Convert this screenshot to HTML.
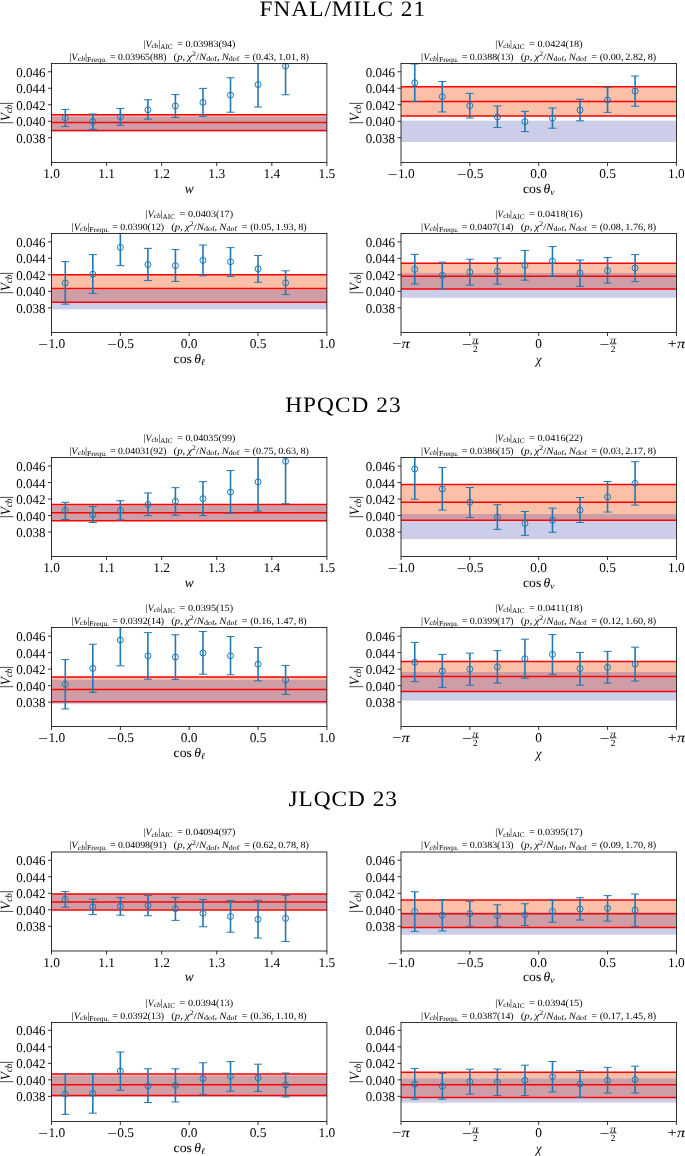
<!DOCTYPE html>
<html lang="en"><head><meta charset="utf-8"><title>Vcb fits</title>
<style>
html,body{margin:0;padding:0;background:#fff}
svg{display:block;will-change:transform}
text{font-family:"Liberation Serif",serif;fill:#000;text-rendering:geometricPrecision}
.tk{font-size:13.4px}
.ti{font-size:9.6px}
.gt{font-size:22px}
.it{font-style:italic}
.sp{fill:none;stroke:#000;stroke-width:.8}
.tm{stroke:#000;stroke-width:.8}
.rl{stroke:#f00;stroke-width:1.5}
.eb{stroke:#1f77b4;stroke-width:1.6}
.cp{stroke:#1f77b4;stroke-width:1}
.mk{fill:none;stroke:#1f77b4;stroke-width:1}
</style></head>
<body>
<svg width="685" height="1156" viewBox="0 0 685 1156">
<rect width="685" height="1156" fill="#fff"/>
<text class="gt" transform="translate(342.35,16.4) scale(1.06,1)" text-anchor="middle" textLength="156.13" lengthAdjust="spacing">FNAL/MILC 21</text>
<text class="gt" transform="translate(342.9,411.5) scale(1.06,1)" text-anchor="middle" textLength="108.87" lengthAdjust="spacing">HPQCD 23</text>
<text class="gt" transform="translate(342.75,806.0) scale(1.06,1)" text-anchor="middle" textLength="102.36" lengthAdjust="spacing">JLQCD 23</text>
<g>
<clipPath id="c1"><rect x="51.5" y="63.5" width="275.4" height="99"/></clipPath>
<g clip-path="url(#c1)">
<rect x="51.5" y="114.85" width="275.4" height="15.53" fill="#fcc0a8"/>
<rect x="51.5" y="116.7" width="275.4" height="15.1" fill="#cccde8"/>
<rect x="51.5" y="116.7" width="275.4" height="13.68" fill="#ce9da5"/>
<line class="rl" x1="51.5" x2="326.9" y1="114.85" y2="114.85"/>
<line class="rl" x1="51.5" x2="326.9" y1="122.55" y2="122.55"/>
<line class="rl" x1="51.5" x2="326.9" y1="130.38" y2="130.38"/>
<line class="eb" x1="65.27" x2="65.27" y1="109.41" y2="126.59"/><line class="cp" x1="61.27" x2="69.27" y1="109.41" y2="109.41"/><line class="cp" x1="61.27" x2="69.27" y1="126.59" y2="126.59"/><circle class="mk" cx="65.27" cy="117.79" r="3"/>
<line class="eb" x1="92.81" x2="92.81" y1="114.01" y2="129.38"/><line class="cp" x1="88.81" x2="96.81" y1="114.01" y2="114.01"/><line class="cp" x1="88.81" x2="96.81" y1="129.38" y2="129.38"/><circle class="mk" cx="92.81" cy="121.57" r="3"/>
<line class="eb" x1="120.35" x2="120.35" y1="108.43" y2="125.19"/><line class="cp" x1="116.35" x2="124.35" y1="108.43" y2="108.43"/><line class="cp" x1="116.35" x2="124.35" y1="125.19" y2="125.19"/><circle class="mk" cx="120.35" cy="116.81" r="3"/>
<line class="eb" x1="147.89" x2="147.89" y1="99.8" y2="119.19"/><line class="cp" x1="143.89" x2="151.89" y1="99.8" y2="99.8"/><line class="cp" x1="143.89" x2="151.89" y1="119.19" y2="119.19"/><circle class="mk" cx="147.89" cy="109.82" r="3"/>
<line class="eb" x1="175.43" x2="175.43" y1="94.62" y2="117.38"/><line class="cp" x1="171.43" x2="179.43" y1="94.62" y2="94.62"/><line class="cp" x1="171.43" x2="179.43" y1="117.38" y2="117.38"/><circle class="mk" cx="175.43" cy="105.96" r="3"/>
<line class="eb" x1="202.97" x2="202.97" y1="88.38" y2="116.4"/><line class="cp" x1="198.97" x2="206.97" y1="88.38" y2="88.38"/><line class="cp" x1="198.97" x2="206.97" y1="116.4" y2="116.4"/><circle class="mk" cx="202.97" cy="102.43" r="3"/>
<line class="eb" x1="230.51" x2="230.51" y1="77.78" y2="112.21"/><line class="cp" x1="226.51" x2="234.51" y1="77.78" y2="77.78"/><line class="cp" x1="226.51" x2="234.51" y1="112.21" y2="112.21"/><circle class="mk" cx="230.51" cy="95.2" r="3"/>
<line class="eb" x1="258.05" x2="258.05" y1="62.17" y2="107.03"/><line class="cp" x1="254.05" x2="262.05" y1="62.17" y2="62.17"/><line class="cp" x1="254.05" x2="262.05" y1="107.03" y2="107.03"/><circle class="mk" cx="258.05" cy="84.6" r="3"/>
<line class="eb" x1="285.59" x2="285.59" y1="37.27" y2="94.79"/><line class="cp" x1="281.59" x2="289.59" y1="37.27" y2="37.27"/><line class="cp" x1="281.59" x2="289.59" y1="94.79" y2="94.79"/><circle class="mk" cx="285.59" cy="66.03" r="3"/>
</g>
<rect class="sp" x="51.5" y="63.5" width="275.4" height="99"/>
<line class="tm" x1="48" x2="51.5" y1="137.75" y2="137.75"/><text class="tk" x="45.5" y="142.85" text-anchor="end" textLength="29.3" lengthAdjust="spacingAndGlyphs">0.038</text>
<line class="tm" x1="48" x2="51.5" y1="121.25" y2="121.25"/><text class="tk" x="45.5" y="126.35" text-anchor="end" textLength="29.3" lengthAdjust="spacingAndGlyphs">0.040</text>
<line class="tm" x1="48" x2="51.5" y1="104.75" y2="104.75"/><text class="tk" x="45.5" y="109.85" text-anchor="end" textLength="29.3" lengthAdjust="spacingAndGlyphs">0.042</text>
<line class="tm" x1="48" x2="51.5" y1="88.25" y2="88.25"/><text class="tk" x="45.5" y="93.35" text-anchor="end" textLength="29.3" lengthAdjust="spacingAndGlyphs">0.044</text>
<line class="tm" x1="48" x2="51.5" y1="71.75" y2="71.75"/><text class="tk" x="45.5" y="76.85" text-anchor="end" textLength="29.3" lengthAdjust="spacingAndGlyphs">0.046</text>
<text font-size="14px" transform="translate(9.5,113) rotate(-90)" text-anchor="middle" textLength="22.6" lengthAdjust="spacingAndGlyphs"><tspan font-size="15.5px" dy=".8">|</tspan><tspan class="it" dy="-.8">V</tspan><tspan class="it" font-size="9.6px" dy="2.3">cb</tspan><tspan font-size="15.5px" dy="-1.5">|</tspan></text>
<line class="tm" x1="51.5" x2="51.5" y1="162.5" y2="166"/><text class="tk" x="51.5" y="178.3" text-anchor="middle">1.0</text>
<line class="tm" x1="106.58" x2="106.58" y1="162.5" y2="166"/><text class="tk" x="106.58" y="178.3" text-anchor="middle">1.1</text>
<line class="tm" x1="161.66" x2="161.66" y1="162.5" y2="166"/><text class="tk" x="161.66" y="178.3" text-anchor="middle">1.2</text>
<line class="tm" x1="216.74" x2="216.74" y1="162.5" y2="166"/><text class="tk" x="216.74" y="178.3" text-anchor="middle">1.3</text>
<line class="tm" x1="271.82" x2="271.82" y1="162.5" y2="166"/><text class="tk" x="271.82" y="178.3" text-anchor="middle">1.4</text>
<line class="tm" x1="326.9" x2="326.9" y1="162.5" y2="166"/><text class="tk" x="326.9" y="178.3" text-anchor="middle">1.5</text>
<text class="tk it" x="189.2" y="192.8" text-anchor="middle">w</text>
<text class="ti" x="143.45" y="46.8" textLength="29.2" lengthAdjust="spacingAndGlyphs">|<tspan class="it">V</tspan><tspan class="it" font-size="7.1px" dy="1.5">cb</tspan><tspan dy="-1.5">|</tspan><tspan font-size="7.1px" dy="2">AIC</tspan></text>
<text class="ti" x="177.25" y="46.8" textLength="58.2" lengthAdjust="spacingAndGlyphs">= 0.03983(94)</text>
<text class="ti" x="69.3" y="59.6" textLength="37.6" lengthAdjust="spacingAndGlyphs">|<tspan class="it">V</tspan><tspan class="it" font-size="7.1px" dy="1.5">cb</tspan><tspan dy="-1.5">|</tspan><tspan font-size="7.1px" dy="2">Frequ.</tspan></text>
<text class="ti" x="109.9" y="59.6" textLength="56.6" lengthAdjust="spacingAndGlyphs">= 0.03965(88)</text>
<text class="ti" x="173.6" y="59.6" textLength="65.9" lengthAdjust="spacingAndGlyphs">(<tspan class="it">p</tspan>,<tspan class="it" dx="1.8">χ</tspan><tspan font-size="7.1px" dy="-3.5">2</tspan><tspan dy="3.5">/</tspan><tspan class="it">N</tspan><tspan font-size="7.1px" dy="1.5">dof</tspan><tspan dy="-1.5">,</tspan><tspan class="it" dx="1.8">N</tspan><tspan font-size="7.1px" dy="1.5">dof</tspan></text>
<text class="ti" x="244.2" y="59.6" textLength="64.8" lengthAdjust="spacingAndGlyphs">= (0.43,<tspan dx="1.8">1.01,</tspan><tspan dx="1.8">8)</tspan></text>
</g>
<g>
<clipPath id="c2"><rect x="401" y="63.5" width="275.4" height="99"/></clipPath>
<g clip-path="url(#c2)">
<rect x="401" y="86.74" width="275.4" height="29.34" fill="#fcc0a8"/>
<rect x="401" y="120.65" width="275.4" height="21.3" fill="#cccde8"/>
<line class="rl" x1="401" x2="676.4" y1="86.74" y2="86.74"/>
<line class="rl" x1="401" x2="676.4" y1="101.41" y2="101.41"/>
<line class="rl" x1="401" x2="676.4" y1="116.08" y2="116.08"/>
<line class="eb" x1="414.77" x2="414.77" y1="63.98" y2="101.36"/><line class="cp" x1="410.77" x2="418.77" y1="63.98" y2="63.98"/><line class="cp" x1="410.77" x2="418.77" y1="101.36" y2="101.36"/><circle class="mk" cx="414.77" cy="82.79" r="3"/>
<line class="eb" x1="442.31" x2="442.31" y1="81.56" y2="111.96"/><line class="cp" x1="438.31" x2="446.31" y1="81.56" y2="81.56"/><line class="cp" x1="438.31" x2="446.31" y1="111.96" y2="111.96"/><circle class="mk" cx="442.31" cy="96.76" r="3"/>
<line class="eb" x1="469.85" x2="469.85" y1="93.39" y2="117.96"/><line class="cp" x1="465.85" x2="473.85" y1="93.39" y2="93.39"/><line class="cp" x1="465.85" x2="473.85" y1="117.96" y2="117.96"/><circle class="mk" cx="469.85" cy="105.63" r="3"/>
<line class="eb" x1="497.39" x2="497.39" y1="105.96" y2="127.57"/><line class="cp" x1="493.39" x2="501.39" y1="105.96" y2="105.96"/><line class="cp" x1="493.39" x2="501.39" y1="127.57" y2="127.57"/><circle class="mk" cx="497.39" cy="116.97" r="3"/>
<line class="eb" x1="524.93" x2="524.93" y1="111.39" y2="131.6"/><line class="cp" x1="520.93" x2="528.93" y1="111.39" y2="111.39"/><line class="cp" x1="520.93" x2="528.93" y1="131.6" y2="131.6"/><circle class="mk" cx="524.93" cy="121.57" r="3"/>
<line class="eb" x1="552.47" x2="552.47" y1="108.02" y2="128.23"/><line class="cp" x1="548.47" x2="556.47" y1="108.02" y2="108.02"/><line class="cp" x1="548.47" x2="556.47" y1="128.23" y2="128.23"/><circle class="mk" cx="552.47" cy="117.96" r="3"/>
<line class="eb" x1="580.01" x2="580.01" y1="99.22" y2="120.83"/><line class="cp" x1="576.01" x2="584.01" y1="99.22" y2="99.22"/><line class="cp" x1="576.01" x2="584.01" y1="120.83" y2="120.83"/><circle class="mk" cx="580.01" cy="109.99" r="3"/>
<line class="eb" x1="607.55" x2="607.55" y1="87.64" y2="112.37"/><line class="cp" x1="603.55" x2="611.55" y1="87.64" y2="87.64"/><line class="cp" x1="603.55" x2="611.55" y1="112.37" y2="112.37"/><circle class="mk" cx="607.55" cy="99.96" r="3"/>
<line class="eb" x1="635.09" x2="635.09" y1="75.97" y2="106.21"/><line class="cp" x1="631.09" x2="639.09" y1="75.97" y2="75.97"/><line class="cp" x1="631.09" x2="639.09" y1="106.21" y2="106.21"/><circle class="mk" cx="635.09" cy="91.01" r="3"/>
</g>
<rect class="sp" x="401" y="63.5" width="275.4" height="99"/>
<line class="tm" x1="397.5" x2="401" y1="137.75" y2="137.75"/><text class="tk" x="395" y="142.85" text-anchor="end" textLength="29.3" lengthAdjust="spacingAndGlyphs">0.038</text>
<line class="tm" x1="397.5" x2="401" y1="121.25" y2="121.25"/><text class="tk" x="395" y="126.35" text-anchor="end" textLength="29.3" lengthAdjust="spacingAndGlyphs">0.040</text>
<line class="tm" x1="397.5" x2="401" y1="104.75" y2="104.75"/><text class="tk" x="395" y="109.85" text-anchor="end" textLength="29.3" lengthAdjust="spacingAndGlyphs">0.042</text>
<line class="tm" x1="397.5" x2="401" y1="88.25" y2="88.25"/><text class="tk" x="395" y="93.35" text-anchor="end" textLength="29.3" lengthAdjust="spacingAndGlyphs">0.044</text>
<line class="tm" x1="397.5" x2="401" y1="71.75" y2="71.75"/><text class="tk" x="395" y="76.85" text-anchor="end" textLength="29.3" lengthAdjust="spacingAndGlyphs">0.046</text>
<text font-size="14px" transform="translate(359,113) rotate(-90)" text-anchor="middle" textLength="22.6" lengthAdjust="spacingAndGlyphs"><tspan font-size="15.5px" dy=".8">|</tspan><tspan class="it" dy="-.8">V</tspan><tspan class="it" font-size="9.6px" dy="2.3">cb</tspan><tspan font-size="15.5px" dy="-1.5">|</tspan></text>
<line class="tm" x1="401" x2="401" y1="162.5" y2="166"/><text class="tk" x="387.8" y="179.1" textLength="9.8" lengthAdjust="spacingAndGlyphs">−</text><text class="tk" x="397.9" y="178.3">1.0</text>
<line class="tm" x1="469.85" x2="469.85" y1="162.5" y2="166"/><text class="tk" x="456.65" y="179.1" textLength="9.8" lengthAdjust="spacingAndGlyphs">−</text><text class="tk" x="466.75" y="178.3">0.5</text>
<line class="tm" x1="538.7" x2="538.7" y1="162.5" y2="166"/><text class="tk" x="538.7" y="178.3" text-anchor="middle">0.0</text>
<line class="tm" x1="607.55" x2="607.55" y1="162.5" y2="166"/><text class="tk" x="607.55" y="178.3" text-anchor="middle">0.5</text>
<line class="tm" x1="676.4" x2="676.4" y1="162.5" y2="166"/><text class="tk" x="676.4" y="178.3" text-anchor="middle">1.0</text>
<text class="tk" x="538.7" y="192.7" text-anchor="middle" textLength="31.3" lengthAdjust="spacingAndGlyphs">cos<tspan class="it" dx="2.2">θ</tspan><tspan class="it" font-size="9.1px" dy="2">v</tspan></text>
<text class="ti" x="495.27" y="46.8" textLength="29.2" lengthAdjust="spacingAndGlyphs">|<tspan class="it">V</tspan><tspan class="it" font-size="7.1px" dy="1.5">cb</tspan><tspan dy="-1.5">|</tspan><tspan font-size="7.1px" dy="2">AIC</tspan></text>
<text class="ti" x="529.08" y="46.8" textLength="53.55" lengthAdjust="spacingAndGlyphs">= 0.0424(18)</text>
<text class="ti" x="421.13" y="59.6" textLength="37.6" lengthAdjust="spacingAndGlyphs">|<tspan class="it">V</tspan><tspan class="it" font-size="7.1px" dy="1.5">cb</tspan><tspan dy="-1.5">|</tspan><tspan font-size="7.1px" dy="2">Frequ.</tspan></text>
<text class="ti" x="461.73" y="59.6" textLength="51.95" lengthAdjust="spacingAndGlyphs">= 0.0388(13)</text>
<text class="ti" x="520.78" y="59.6" textLength="65.9" lengthAdjust="spacingAndGlyphs">(<tspan class="it">p</tspan>,<tspan class="it" dx="1.8">χ</tspan><tspan font-size="7.1px" dy="-3.5">2</tspan><tspan dy="3.5">/</tspan><tspan class="it">N</tspan><tspan font-size="7.1px" dy="1.5">dof</tspan><tspan dy="-1.5">,</tspan><tspan class="it" dx="1.8">N</tspan><tspan font-size="7.1px" dy="1.5">dof</tspan></text>
<text class="ti" x="591.38" y="59.6" textLength="64.8" lengthAdjust="spacingAndGlyphs">= (0.00,<tspan dx="1.8">2.82,</tspan><tspan dx="1.8">8)</tspan></text>
</g>
<g>
<clipPath id="c3"><rect x="51.5" y="233.5" width="275.4" height="99"/></clipPath>
<g clip-path="url(#c3)">
<rect x="51.5" y="274.84" width="275.4" height="27.38" fill="#fcc0a8"/>
<rect x="51.5" y="289.5" width="275.4" height="19.9" fill="#cccde8"/>
<rect x="51.5" y="289.5" width="275.4" height="12.72" fill="#ce9da5"/>
<line class="rl" x1="51.5" x2="326.9" y1="274.84" y2="274.84"/>
<line class="rl" x1="51.5" x2="326.9" y1="288.49" y2="288.49"/>
<line class="rl" x1="51.5" x2="326.9" y1="302.22" y2="302.22"/>
<line class="eb" x1="65.27" x2="65.27" y1="261.6" y2="304.16"/><line class="cp" x1="61.27" x2="69.27" y1="261.6" y2="261.6"/><line class="cp" x1="61.27" x2="69.27" y1="304.16" y2="304.16"/><circle class="mk" cx="65.27" cy="282.96" r="3"/>
<line class="eb" x1="92.81" x2="92.81" y1="254.62" y2="293.4"/><line class="cp" x1="88.81" x2="96.81" y1="254.62" y2="254.62"/><line class="cp" x1="88.81" x2="96.81" y1="293.4" y2="293.4"/><circle class="mk" cx="92.81" cy="274.17" r="3"/>
<line class="eb" x1="120.35" x2="120.35" y1="229.15" y2="265.63"/><line class="cp" x1="116.35" x2="124.35" y1="229.15" y2="229.15"/><line class="cp" x1="116.35" x2="124.35" y1="265.63" y2="265.63"/><circle class="mk" cx="120.35" cy="247.39" r="3"/>
<line class="eb" x1="147.89" x2="147.89" y1="248.37" y2="280.58"/><line class="cp" x1="143.89" x2="151.89" y1="248.37" y2="248.37"/><line class="cp" x1="143.89" x2="151.89" y1="280.58" y2="280.58"/><circle class="mk" cx="147.89" cy="264.56" r="3"/>
<line class="eb" x1="175.43" x2="175.43" y1="249.6" y2="281.4"/><line class="cp" x1="171.43" x2="179.43" y1="249.6" y2="249.6"/><line class="cp" x1="171.43" x2="179.43" y1="281.4" y2="281.4"/><circle class="mk" cx="175.43" cy="265.63" r="3"/>
<line class="eb" x1="202.97" x2="202.97" y1="245" y2="275.82"/><line class="cp" x1="198.97" x2="206.97" y1="245" y2="245"/><line class="cp" x1="198.97" x2="206.97" y1="275.82" y2="275.82"/><circle class="mk" cx="202.97" cy="260.37" r="3"/>
<line class="eb" x1="230.51" x2="230.51" y1="247.63" y2="276.39"/><line class="cp" x1="226.51" x2="234.51" y1="247.63" y2="247.63"/><line class="cp" x1="226.51" x2="234.51" y1="276.39" y2="276.39"/><circle class="mk" cx="230.51" cy="261.77" r="3"/>
<line class="eb" x1="258.05" x2="258.05" y1="255.44" y2="282.22"/><line class="cp" x1="254.05" x2="262.05" y1="255.44" y2="255.44"/><line class="cp" x1="254.05" x2="262.05" y1="282.22" y2="282.22"/><circle class="mk" cx="258.05" cy="268.83" r="3"/>
<line class="eb" x1="285.59" x2="285.59" y1="270.8" y2="294.63"/><line class="cp" x1="281.59" x2="289.59" y1="270.8" y2="270.8"/><line class="cp" x1="281.59" x2="289.59" y1="294.63" y2="294.63"/><circle class="mk" cx="285.59" cy="282.8" r="3"/>
</g>
<rect class="sp" x="51.5" y="233.5" width="275.4" height="99"/>
<line class="tm" x1="48" x2="51.5" y1="307.85" y2="307.85"/><text class="tk" x="45.5" y="312.95" text-anchor="end" textLength="29.3" lengthAdjust="spacingAndGlyphs">0.038</text>
<line class="tm" x1="48" x2="51.5" y1="291.35" y2="291.35"/><text class="tk" x="45.5" y="296.45" text-anchor="end" textLength="29.3" lengthAdjust="spacingAndGlyphs">0.040</text>
<line class="tm" x1="48" x2="51.5" y1="274.85" y2="274.85"/><text class="tk" x="45.5" y="279.95" text-anchor="end" textLength="29.3" lengthAdjust="spacingAndGlyphs">0.042</text>
<line class="tm" x1="48" x2="51.5" y1="258.35" y2="258.35"/><text class="tk" x="45.5" y="263.45" text-anchor="end" textLength="29.3" lengthAdjust="spacingAndGlyphs">0.044</text>
<line class="tm" x1="48" x2="51.5" y1="241.85" y2="241.85"/><text class="tk" x="45.5" y="246.95" text-anchor="end" textLength="29.3" lengthAdjust="spacingAndGlyphs">0.046</text>
<text font-size="14px" transform="translate(9.5,283) rotate(-90)" text-anchor="middle" textLength="22.6" lengthAdjust="spacingAndGlyphs"><tspan font-size="15.5px" dy=".8">|</tspan><tspan class="it" dy="-.8">V</tspan><tspan class="it" font-size="9.6px" dy="2.3">cb</tspan><tspan font-size="15.5px" dy="-1.5">|</tspan></text>
<line class="tm" x1="51.5" x2="51.5" y1="332.5" y2="336"/><text class="tk" x="38.3" y="349.1" textLength="9.8" lengthAdjust="spacingAndGlyphs">−</text><text class="tk" x="48.4" y="348.3">1.0</text>
<line class="tm" x1="120.35" x2="120.35" y1="332.5" y2="336"/><text class="tk" x="107.15" y="349.1" textLength="9.8" lengthAdjust="spacingAndGlyphs">−</text><text class="tk" x="117.25" y="348.3">0.5</text>
<line class="tm" x1="189.2" x2="189.2" y1="332.5" y2="336"/><text class="tk" x="189.2" y="348.3" text-anchor="middle">0.0</text>
<line class="tm" x1="258.05" x2="258.05" y1="332.5" y2="336"/><text class="tk" x="258.05" y="348.3" text-anchor="middle">0.5</text>
<line class="tm" x1="326.9" x2="326.9" y1="332.5" y2="336"/><text class="tk" x="326.9" y="348.3" text-anchor="middle">1.0</text>
<text class="tk" x="189.2" y="362.7" text-anchor="middle" textLength="31.3" lengthAdjust="spacingAndGlyphs">cos<tspan class="it" dx="2.2">θ</tspan><tspan class="it" font-size="9.1px" dy="2">ℓ</tspan></text>
<text class="ti" x="145.77" y="216.8" textLength="29.2" lengthAdjust="spacingAndGlyphs">|<tspan class="it">V</tspan><tspan class="it" font-size="7.1px" dy="1.5">cb</tspan><tspan dy="-1.5">|</tspan><tspan font-size="7.1px" dy="2">AIC</tspan></text>
<text class="ti" x="179.57" y="216.8" textLength="53.55" lengthAdjust="spacingAndGlyphs">= 0.0403(17)</text>
<text class="ti" x="71.62" y="229.6" textLength="37.6" lengthAdjust="spacingAndGlyphs">|<tspan class="it">V</tspan><tspan class="it" font-size="7.1px" dy="1.5">cb</tspan><tspan dy="-1.5">|</tspan><tspan font-size="7.1px" dy="2">Frequ.</tspan></text>
<text class="ti" x="112.22" y="229.6" textLength="51.95" lengthAdjust="spacingAndGlyphs">= 0.0390(12)</text>
<text class="ti" x="171.28" y="229.6" textLength="65.9" lengthAdjust="spacingAndGlyphs">(<tspan class="it">p</tspan>,<tspan class="it" dx="1.8">χ</tspan><tspan font-size="7.1px" dy="-3.5">2</tspan><tspan dy="3.5">/</tspan><tspan class="it">N</tspan><tspan font-size="7.1px" dy="1.5">dof</tspan><tspan dy="-1.5">,</tspan><tspan class="it" dx="1.8">N</tspan><tspan font-size="7.1px" dy="1.5">dof</tspan></text>
<text class="ti" x="241.87" y="229.6" textLength="64.8" lengthAdjust="spacingAndGlyphs">= (0.05,<tspan dx="1.8">1.93,</tspan><tspan dx="1.8">8)</tspan></text>
</g>
<g>
<clipPath id="c4"><rect x="401" y="233.5" width="275.4" height="99"/></clipPath>
<g clip-path="url(#c4)">
<rect x="401" y="263.3" width="275.4" height="25.7" fill="#fcc0a8"/>
<rect x="401" y="273" width="275.4" height="24.8" fill="#cccde8"/>
<rect x="401" y="273" width="275.4" height="16" fill="#ce9da5"/>
<line class="rl" x1="401" x2="676.4" y1="263.3" y2="263.3"/>
<line class="rl" x1="401" x2="676.4" y1="276.2" y2="276.2"/>
<line class="rl" x1="401" x2="676.4" y1="289" y2="289"/>
<line class="eb" x1="414.77" x2="414.77" y1="254.37" y2="284.03"/><line class="cp" x1="410.77" x2="418.77" y1="254.37" y2="254.37"/><line class="cp" x1="410.77" x2="418.77" y1="284.03" y2="284.03"/><circle class="mk" cx="414.77" cy="269.41" r="3"/>
<line class="eb" x1="442.31" x2="442.31" y1="262.18" y2="288.63"/><line class="cp" x1="438.31" x2="446.31" y1="262.18" y2="262.18"/><line class="cp" x1="438.31" x2="446.31" y1="288.63" y2="288.63"/><circle class="mk" cx="442.31" cy="275.4" r="3"/>
<line class="eb" x1="469.85" x2="469.85" y1="259.22" y2="285.18"/><line class="cp" x1="465.85" x2="473.85" y1="259.22" y2="259.22"/><line class="cp" x1="465.85" x2="473.85" y1="285.18" y2="285.18"/><circle class="mk" cx="469.85" cy="272.04" r="3"/>
<line class="eb" x1="497.39" x2="497.39" y1="257.99" y2="284.2"/><line class="cp" x1="493.39" x2="501.39" y1="257.99" y2="257.99"/><line class="cp" x1="493.39" x2="501.39" y1="284.2" y2="284.2"/><circle class="mk" cx="497.39" cy="271.21" r="3"/>
<line class="eb" x1="524.93" x2="524.93" y1="250.43" y2="280.17"/><line class="cp" x1="520.93" x2="528.93" y1="250.43" y2="250.43"/><line class="cp" x1="520.93" x2="528.93" y1="280.17" y2="280.17"/><circle class="mk" cx="524.93" cy="265.38" r="3"/>
<line class="eb" x1="552.47" x2="552.47" y1="246.56" y2="276.23"/><line class="cp" x1="548.47" x2="556.47" y1="246.56" y2="246.56"/><line class="cp" x1="548.47" x2="556.47" y1="276.23" y2="276.23"/><circle class="mk" cx="552.47" cy="261.19" r="3"/>
<line class="eb" x1="580.01" x2="580.01" y1="260.04" y2="286.42"/><line class="cp" x1="576.01" x2="584.01" y1="260.04" y2="260.04"/><line class="cp" x1="576.01" x2="584.01" y1="286.42" y2="286.42"/><circle class="mk" cx="580.01" cy="273.02" r="3"/>
<line class="eb" x1="607.55" x2="607.55" y1="257.57" y2="283.21"/><line class="cp" x1="603.55" x2="611.55" y1="257.57" y2="257.57"/><line class="cp" x1="603.55" x2="611.55" y1="283.21" y2="283.21"/><circle class="mk" cx="607.55" cy="270.64" r="3"/>
<line class="eb" x1="635.09" x2="635.09" y1="254.62" y2="281.57"/><line class="cp" x1="631.09" x2="639.09" y1="254.62" y2="254.62"/><line class="cp" x1="631.09" x2="639.09" y1="281.57" y2="281.57"/><circle class="mk" cx="635.09" cy="268.01" r="3"/>
</g>
<rect class="sp" x="401" y="233.5" width="275.4" height="99"/>
<line class="tm" x1="397.5" x2="401" y1="307.85" y2="307.85"/><text class="tk" x="395" y="312.95" text-anchor="end" textLength="29.3" lengthAdjust="spacingAndGlyphs">0.038</text>
<line class="tm" x1="397.5" x2="401" y1="291.35" y2="291.35"/><text class="tk" x="395" y="296.45" text-anchor="end" textLength="29.3" lengthAdjust="spacingAndGlyphs">0.040</text>
<line class="tm" x1="397.5" x2="401" y1="274.85" y2="274.85"/><text class="tk" x="395" y="279.95" text-anchor="end" textLength="29.3" lengthAdjust="spacingAndGlyphs">0.042</text>
<line class="tm" x1="397.5" x2="401" y1="258.35" y2="258.35"/><text class="tk" x="395" y="263.45" text-anchor="end" textLength="29.3" lengthAdjust="spacingAndGlyphs">0.044</text>
<line class="tm" x1="397.5" x2="401" y1="241.85" y2="241.85"/><text class="tk" x="395" y="246.95" text-anchor="end" textLength="29.3" lengthAdjust="spacingAndGlyphs">0.046</text>
<text font-size="14px" transform="translate(359,283) rotate(-90)" text-anchor="middle" textLength="22.6" lengthAdjust="spacingAndGlyphs"><tspan font-size="15.5px" dy=".8">|</tspan><tspan class="it" dy="-.8">V</tspan><tspan class="it" font-size="9.6px" dy="2.3">cb</tspan><tspan font-size="15.5px" dy="-1.5">|</tspan></text>
<line class="tm" x1="401" x2="401" y1="332.5" y2="336"/><text class="tk" x="401" y="348.3" text-anchor="middle" textLength="17.6" lengthAdjust="spacingAndGlyphs">−<tspan class="it">π</tspan></text>
<line class="tm" x1="469.85" x2="469.85" y1="332.5" y2="336"/><text class="tk" x="466.95" y="348.7" text-anchor="middle" textLength="10.1" lengthAdjust="spacingAndGlyphs">−</text><text class="it" font-size="9.3px" x="475.45" y="342.9" text-anchor="middle" textLength="6.2" lengthAdjust="spacingAndGlyphs">π</text><line class="tm" x1="472.25" x2="478.75" y1="343.8" y2="343.8" stroke-width=".6"/><text font-size="9.3px" x="475.45" y="352" text-anchor="middle">2</text>
<line class="tm" x1="538.7" x2="538.7" y1="332.5" y2="336"/><text class="tk" x="538.7" y="348.3" text-anchor="middle">0</text>
<line class="tm" x1="607.55" x2="607.55" y1="332.5" y2="336"/><text class="tk" x="604.65" y="348.7" text-anchor="middle" textLength="10.1" lengthAdjust="spacingAndGlyphs">−</text><text class="it" font-size="9.3px" x="613.15" y="342.9" text-anchor="middle" textLength="6.2" lengthAdjust="spacingAndGlyphs">π</text><line class="tm" x1="609.95" x2="616.45" y1="343.8" y2="343.8" stroke-width=".6"/><text font-size="9.3px" x="613.15" y="352" text-anchor="middle">2</text>
<line class="tm" x1="676.4" x2="676.4" y1="332.5" y2="336"/><text class="tk" x="676.4" y="348.3" text-anchor="middle" textLength="17.6" lengthAdjust="spacingAndGlyphs">+<tspan class="it">π</tspan></text>
<text class="tk it" x="538.7" y="364.1" text-anchor="middle">χ</text>
<text class="ti" x="495.27" y="216.8" textLength="29.2" lengthAdjust="spacingAndGlyphs">|<tspan class="it">V</tspan><tspan class="it" font-size="7.1px" dy="1.5">cb</tspan><tspan dy="-1.5">|</tspan><tspan font-size="7.1px" dy="2">AIC</tspan></text>
<text class="ti" x="529.08" y="216.8" textLength="53.55" lengthAdjust="spacingAndGlyphs">= 0.0418(16)</text>
<text class="ti" x="421.13" y="229.6" textLength="37.6" lengthAdjust="spacingAndGlyphs">|<tspan class="it">V</tspan><tspan class="it" font-size="7.1px" dy="1.5">cb</tspan><tspan dy="-1.5">|</tspan><tspan font-size="7.1px" dy="2">Frequ.</tspan></text>
<text class="ti" x="461.73" y="229.6" textLength="51.95" lengthAdjust="spacingAndGlyphs">= 0.0407(14)</text>
<text class="ti" x="520.78" y="229.6" textLength="65.9" lengthAdjust="spacingAndGlyphs">(<tspan class="it">p</tspan>,<tspan class="it" dx="1.8">χ</tspan><tspan font-size="7.1px" dy="-3.5">2</tspan><tspan dy="3.5">/</tspan><tspan class="it">N</tspan><tspan font-size="7.1px" dy="1.5">dof</tspan><tspan dy="-1.5">,</tspan><tspan class="it" dx="1.8">N</tspan><tspan font-size="7.1px" dy="1.5">dof</tspan></text>
<text class="ti" x="591.38" y="229.6" textLength="64.8" lengthAdjust="spacingAndGlyphs">= (0.08,<tspan dx="1.8">1.76,</tspan><tspan dx="1.8">8)</tspan></text>
</g>
<g>
<clipPath id="c5"><rect x="51.5" y="457.5" width="275.4" height="99"/></clipPath>
<g clip-path="url(#c5)">
<rect x="51.5" y="504.5" width="275.4" height="16.33" fill="#fcc0a8"/>
<rect x="51.5" y="505.4" width="275.4" height="15.18" fill="#cccde8"/>
<rect x="51.5" y="505.4" width="275.4" height="15.18" fill="#ce9da5"/>
<line class="rl" x1="51.5" x2="326.9" y1="504.5" y2="504.5"/>
<line class="rl" x1="51.5" x2="326.9" y1="512.66" y2="512.66"/>
<line class="rl" x1="51.5" x2="326.9" y1="520.83" y2="520.83"/>
<line class="eb" x1="65.27" x2="65.27" y1="502.3" y2="519.47"/><line class="cp" x1="61.27" x2="69.27" y1="502.3" y2="502.3"/><line class="cp" x1="61.27" x2="69.27" y1="519.47" y2="519.47"/><circle class="mk" cx="65.27" cy="510.68" r="3"/>
<line class="eb" x1="92.81" x2="92.81" y1="506.49" y2="522.51"/><line class="cp" x1="88.81" x2="96.81" y1="506.49" y2="506.49"/><line class="cp" x1="88.81" x2="96.81" y1="522.51" y2="522.51"/><circle class="mk" cx="92.81" cy="514.71" r="3"/>
<line class="eb" x1="120.35" x2="120.35" y1="500.74" y2="519.88"/><line class="cp" x1="116.35" x2="124.35" y1="500.74" y2="500.74"/><line class="cp" x1="116.35" x2="124.35" y1="519.88" y2="519.88"/><circle class="mk" cx="120.35" cy="510.52" r="3"/>
<line class="eb" x1="147.89" x2="147.89" y1="492.93" y2="515.69"/><line class="cp" x1="143.89" x2="151.89" y1="492.93" y2="492.93"/><line class="cp" x1="143.89" x2="151.89" y1="515.69" y2="515.69"/><circle class="mk" cx="147.89" cy="504.52" r="3"/>
<line class="eb" x1="175.43" x2="175.43" y1="487.67" y2="515.28"/><line class="cp" x1="171.43" x2="179.43" y1="487.67" y2="487.67"/><line class="cp" x1="171.43" x2="179.43" y1="515.28" y2="515.28"/><circle class="mk" cx="175.43" cy="501.31" r="3"/>
<line class="eb" x1="202.97" x2="202.97" y1="481.67" y2="515.53"/><line class="cp" x1="198.97" x2="206.97" y1="481.67" y2="481.67"/><line class="cp" x1="198.97" x2="206.97" y1="515.53" y2="515.53"/><circle class="mk" cx="202.97" cy="498.68" r="3"/>
<line class="eb" x1="230.51" x2="230.51" y1="470.5" y2="513.31"/><line class="cp" x1="226.51" x2="234.51" y1="470.5" y2="470.5"/><line class="cp" x1="226.51" x2="234.51" y1="513.31" y2="513.31"/><circle class="mk" cx="230.51" cy="492.11" r="3"/>
<line class="eb" x1="258.05" x2="258.05" y1="452.75" y2="511.09"/><line class="cp" x1="254.05" x2="262.05" y1="452.75" y2="452.75"/><line class="cp" x1="254.05" x2="262.05" y1="511.09" y2="511.09"/><circle class="mk" cx="258.05" cy="481.92" r="3"/>
<line class="eb" x1="285.59" x2="285.59" y1="418.9" y2="503.7"/><line class="cp" x1="281.59" x2="289.59" y1="418.9" y2="418.9"/><line class="cp" x1="281.59" x2="289.59" y1="503.7" y2="503.7"/><circle class="mk" cx="285.59" cy="461.3" r="3"/>
</g>
<rect class="sp" x="51.5" y="457.5" width="275.4" height="99"/>
<line class="tm" x1="48" x2="51.5" y1="532.05" y2="532.05"/><text class="tk" x="45.5" y="537.15" text-anchor="end" textLength="29.3" lengthAdjust="spacingAndGlyphs">0.038</text>
<line class="tm" x1="48" x2="51.5" y1="515.55" y2="515.55"/><text class="tk" x="45.5" y="520.65" text-anchor="end" textLength="29.3" lengthAdjust="spacingAndGlyphs">0.040</text>
<line class="tm" x1="48" x2="51.5" y1="499.05" y2="499.05"/><text class="tk" x="45.5" y="504.15" text-anchor="end" textLength="29.3" lengthAdjust="spacingAndGlyphs">0.042</text>
<line class="tm" x1="48" x2="51.5" y1="482.55" y2="482.55"/><text class="tk" x="45.5" y="487.65" text-anchor="end" textLength="29.3" lengthAdjust="spacingAndGlyphs">0.044</text>
<line class="tm" x1="48" x2="51.5" y1="466.05" y2="466.05"/><text class="tk" x="45.5" y="471.15" text-anchor="end" textLength="29.3" lengthAdjust="spacingAndGlyphs">0.046</text>
<text font-size="14px" transform="translate(9.5,507) rotate(-90)" text-anchor="middle" textLength="22.6" lengthAdjust="spacingAndGlyphs"><tspan font-size="15.5px" dy=".8">|</tspan><tspan class="it" dy="-.8">V</tspan><tspan class="it" font-size="9.6px" dy="2.3">cb</tspan><tspan font-size="15.5px" dy="-1.5">|</tspan></text>
<line class="tm" x1="51.5" x2="51.5" y1="556.5" y2="560"/><text class="tk" x="51.5" y="572.3" text-anchor="middle">1.0</text>
<line class="tm" x1="106.58" x2="106.58" y1="556.5" y2="560"/><text class="tk" x="106.58" y="572.3" text-anchor="middle">1.1</text>
<line class="tm" x1="161.66" x2="161.66" y1="556.5" y2="560"/><text class="tk" x="161.66" y="572.3" text-anchor="middle">1.2</text>
<line class="tm" x1="216.74" x2="216.74" y1="556.5" y2="560"/><text class="tk" x="216.74" y="572.3" text-anchor="middle">1.3</text>
<line class="tm" x1="271.82" x2="271.82" y1="556.5" y2="560"/><text class="tk" x="271.82" y="572.3" text-anchor="middle">1.4</text>
<line class="tm" x1="326.9" x2="326.9" y1="556.5" y2="560"/><text class="tk" x="326.9" y="572.3" text-anchor="middle">1.5</text>
<text class="tk it" x="189.2" y="586.8" text-anchor="middle">w</text>
<text class="ti" x="143.45" y="440.8" textLength="29.2" lengthAdjust="spacingAndGlyphs">|<tspan class="it">V</tspan><tspan class="it" font-size="7.1px" dy="1.5">cb</tspan><tspan dy="-1.5">|</tspan><tspan font-size="7.1px" dy="2">AIC</tspan></text>
<text class="ti" x="177.25" y="440.8" textLength="58.2" lengthAdjust="spacingAndGlyphs">= 0.04035(99)</text>
<text class="ti" x="69.3" y="453.6" textLength="37.6" lengthAdjust="spacingAndGlyphs">|<tspan class="it">V</tspan><tspan class="it" font-size="7.1px" dy="1.5">cb</tspan><tspan dy="-1.5">|</tspan><tspan font-size="7.1px" dy="2">Frequ.</tspan></text>
<text class="ti" x="109.9" y="453.6" textLength="56.6" lengthAdjust="spacingAndGlyphs">= 0.04031(92)</text>
<text class="ti" x="173.6" y="453.6" textLength="65.9" lengthAdjust="spacingAndGlyphs">(<tspan class="it">p</tspan>,<tspan class="it" dx="1.8">χ</tspan><tspan font-size="7.1px" dy="-3.5">2</tspan><tspan dy="3.5">/</tspan><tspan class="it">N</tspan><tspan font-size="7.1px" dy="1.5">dof</tspan><tspan dy="-1.5">,</tspan><tspan class="it" dx="1.8">N</tspan><tspan font-size="7.1px" dy="1.5">dof</tspan></text>
<text class="ti" x="244.2" y="453.6" textLength="64.8" lengthAdjust="spacingAndGlyphs">= (0.75,<tspan dx="1.8">0.63,</tspan><tspan dx="1.8">8)</tspan></text>
</g>
<g>
<clipPath id="c6"><rect x="401" y="457.5" width="275.4" height="99"/></clipPath>
<g clip-path="url(#c6)">
<rect x="401" y="484.4" width="275.4" height="35.9" fill="#fcc0a8"/>
<rect x="401" y="514" width="275.4" height="25.2" fill="#cccde8"/>
<rect x="401" y="514" width="275.4" height="6.3" fill="#ce9da5"/>
<line class="rl" x1="401" x2="676.4" y1="484.4" y2="484.4"/>
<line class="rl" x1="401" x2="676.4" y1="502.35" y2="502.35"/>
<line class="rl" x1="401" x2="676.4" y1="520.3" y2="520.3"/>
<line class="eb" x1="414.77" x2="414.77" y1="438.62" y2="499.26"/><line class="cp" x1="410.77" x2="418.77" y1="438.62" y2="438.62"/><line class="cp" x1="410.77" x2="418.77" y1="499.26" y2="499.26"/><circle class="mk" cx="414.77" cy="468.94" r="3"/>
<line class="eb" x1="442.31" x2="442.31" y1="467.46" y2="510.1"/><line class="cp" x1="438.31" x2="446.31" y1="467.46" y2="467.46"/><line class="cp" x1="438.31" x2="446.31" y1="510.1" y2="510.1"/><circle class="mk" cx="442.31" cy="488.91" r="3"/>
<line class="eb" x1="469.85" x2="469.85" y1="487.51" y2="517.5"/><line class="cp" x1="465.85" x2="473.85" y1="487.51" y2="487.51"/><line class="cp" x1="465.85" x2="473.85" y1="517.5" y2="517.5"/><circle class="mk" cx="469.85" cy="502.3" r="3"/>
<line class="eb" x1="497.39" x2="497.39" y1="504.68" y2="529.33"/><line class="cp" x1="493.39" x2="501.39" y1="504.68" y2="504.68"/><line class="cp" x1="493.39" x2="501.39" y1="529.33" y2="529.33"/><circle class="mk" cx="497.39" cy="517.09" r="3"/>
<line class="eb" x1="524.93" x2="524.93" y1="511.5" y2="535.33"/><line class="cp" x1="520.93" x2="528.93" y1="511.5" y2="511.5"/><line class="cp" x1="520.93" x2="528.93" y1="535.33" y2="535.33"/><circle class="mk" cx="524.93" cy="523.5" r="3"/>
<line class="eb" x1="552.47" x2="552.47" y1="508.13" y2="532.29"/><line class="cp" x1="548.47" x2="556.47" y1="508.13" y2="508.13"/><line class="cp" x1="548.47" x2="556.47" y1="532.29" y2="532.29"/><circle class="mk" cx="552.47" cy="520.29" r="3"/>
<line class="eb" x1="580.01" x2="580.01" y1="497.53" y2="522.51"/><line class="cp" x1="576.01" x2="584.01" y1="497.53" y2="497.53"/><line class="cp" x1="576.01" x2="584.01" y1="522.51" y2="522.51"/><circle class="mk" cx="580.01" cy="510.1" r="3"/>
<line class="eb" x1="607.55" x2="607.55" y1="481.51" y2="512.08"/><line class="cp" x1="603.55" x2="611.55" y1="481.51" y2="481.51"/><line class="cp" x1="603.55" x2="611.55" y1="512.08" y2="512.08"/><circle class="mk" cx="607.55" cy="496.88" r="3"/>
<line class="eb" x1="635.09" x2="635.09" y1="461.71" y2="505.09"/><line class="cp" x1="631.09" x2="639.09" y1="461.71" y2="461.71"/><line class="cp" x1="631.09" x2="639.09" y1="505.09" y2="505.09"/><circle class="mk" cx="635.09" cy="483.32" r="3"/>
</g>
<rect class="sp" x="401" y="457.5" width="275.4" height="99"/>
<line class="tm" x1="397.5" x2="401" y1="532.05" y2="532.05"/><text class="tk" x="395" y="537.15" text-anchor="end" textLength="29.3" lengthAdjust="spacingAndGlyphs">0.038</text>
<line class="tm" x1="397.5" x2="401" y1="515.55" y2="515.55"/><text class="tk" x="395" y="520.65" text-anchor="end" textLength="29.3" lengthAdjust="spacingAndGlyphs">0.040</text>
<line class="tm" x1="397.5" x2="401" y1="499.05" y2="499.05"/><text class="tk" x="395" y="504.15" text-anchor="end" textLength="29.3" lengthAdjust="spacingAndGlyphs">0.042</text>
<line class="tm" x1="397.5" x2="401" y1="482.55" y2="482.55"/><text class="tk" x="395" y="487.65" text-anchor="end" textLength="29.3" lengthAdjust="spacingAndGlyphs">0.044</text>
<line class="tm" x1="397.5" x2="401" y1="466.05" y2="466.05"/><text class="tk" x="395" y="471.15" text-anchor="end" textLength="29.3" lengthAdjust="spacingAndGlyphs">0.046</text>
<text font-size="14px" transform="translate(359,507) rotate(-90)" text-anchor="middle" textLength="22.6" lengthAdjust="spacingAndGlyphs"><tspan font-size="15.5px" dy=".8">|</tspan><tspan class="it" dy="-.8">V</tspan><tspan class="it" font-size="9.6px" dy="2.3">cb</tspan><tspan font-size="15.5px" dy="-1.5">|</tspan></text>
<line class="tm" x1="401" x2="401" y1="556.5" y2="560"/><text class="tk" x="387.8" y="573.1" textLength="9.8" lengthAdjust="spacingAndGlyphs">−</text><text class="tk" x="397.9" y="572.3">1.0</text>
<line class="tm" x1="469.85" x2="469.85" y1="556.5" y2="560"/><text class="tk" x="456.65" y="573.1" textLength="9.8" lengthAdjust="spacingAndGlyphs">−</text><text class="tk" x="466.75" y="572.3">0.5</text>
<line class="tm" x1="538.7" x2="538.7" y1="556.5" y2="560"/><text class="tk" x="538.7" y="572.3" text-anchor="middle">0.0</text>
<line class="tm" x1="607.55" x2="607.55" y1="556.5" y2="560"/><text class="tk" x="607.55" y="572.3" text-anchor="middle">0.5</text>
<line class="tm" x1="676.4" x2="676.4" y1="556.5" y2="560"/><text class="tk" x="676.4" y="572.3" text-anchor="middle">1.0</text>
<text class="tk" x="538.7" y="586.7" text-anchor="middle" textLength="31.3" lengthAdjust="spacingAndGlyphs">cos<tspan class="it" dx="2.2">θ</tspan><tspan class="it" font-size="9.1px" dy="2">v</tspan></text>
<text class="ti" x="495.27" y="440.8" textLength="29.2" lengthAdjust="spacingAndGlyphs">|<tspan class="it">V</tspan><tspan class="it" font-size="7.1px" dy="1.5">cb</tspan><tspan dy="-1.5">|</tspan><tspan font-size="7.1px" dy="2">AIC</tspan></text>
<text class="ti" x="529.08" y="440.8" textLength="53.55" lengthAdjust="spacingAndGlyphs">= 0.0416(22)</text>
<text class="ti" x="421.13" y="453.6" textLength="37.6" lengthAdjust="spacingAndGlyphs">|<tspan class="it">V</tspan><tspan class="it" font-size="7.1px" dy="1.5">cb</tspan><tspan dy="-1.5">|</tspan><tspan font-size="7.1px" dy="2">Frequ.</tspan></text>
<text class="ti" x="461.73" y="453.6" textLength="51.95" lengthAdjust="spacingAndGlyphs">= 0.0386(15)</text>
<text class="ti" x="520.78" y="453.6" textLength="65.9" lengthAdjust="spacingAndGlyphs">(<tspan class="it">p</tspan>,<tspan class="it" dx="1.8">χ</tspan><tspan font-size="7.1px" dy="-3.5">2</tspan><tspan dy="3.5">/</tspan><tspan class="it">N</tspan><tspan font-size="7.1px" dy="1.5">dof</tspan><tspan dy="-1.5">,</tspan><tspan class="it" dx="1.8">N</tspan><tspan font-size="7.1px" dy="1.5">dof</tspan></text>
<text class="ti" x="591.38" y="453.6" textLength="64.8" lengthAdjust="spacingAndGlyphs">= (0.03,<tspan dx="1.8">2.17,</tspan><tspan dx="1.8">8)</tspan></text>
</g>
<g>
<clipPath id="c7"><rect x="51.5" y="627.5" width="275.4" height="99"/></clipPath>
<g clip-path="url(#c7)">
<rect x="51.5" y="676.95" width="275.4" height="24.9" fill="#fcc0a8"/>
<rect x="51.5" y="679.9" width="275.4" height="24.3" fill="#cccde8"/>
<rect x="51.5" y="679.9" width="275.4" height="21.95" fill="#ce9da5"/>
<line class="rl" x1="51.5" x2="326.9" y1="676.95" y2="676.95"/>
<line class="rl" x1="51.5" x2="326.9" y1="689.4" y2="689.4"/>
<line class="rl" x1="51.5" x2="326.9" y1="701.85" y2="701.85"/>
<line class="eb" x1="65.27" x2="65.27" y1="659.58" y2="708.96"/><line class="cp" x1="61.27" x2="69.27" y1="659.58" y2="659.58"/><line class="cp" x1="61.27" x2="69.27" y1="708.96" y2="708.96"/><circle class="mk" cx="65.27" cy="684.4" r="3"/>
<line class="eb" x1="92.81" x2="92.81" y1="644.22" y2="692.37"/><line class="cp" x1="88.81" x2="96.81" y1="644.22" y2="644.22"/><line class="cp" x1="88.81" x2="96.81" y1="692.37" y2="692.37"/><circle class="mk" cx="92.81" cy="668.37" r="3"/>
<line class="eb" x1="120.35" x2="120.35" y1="614.22" y2="665.83"/><line class="cp" x1="116.35" x2="124.35" y1="614.22" y2="614.22"/><line class="cp" x1="116.35" x2="124.35" y1="665.83" y2="665.83"/><circle class="mk" cx="120.35" cy="640.03" r="3"/>
<line class="eb" x1="147.89" x2="147.89" y1="632.63" y2="679.22"/><line class="cp" x1="143.89" x2="151.89" y1="632.63" y2="632.63"/><line class="cp" x1="143.89" x2="151.89" y1="679.22" y2="679.22"/><circle class="mk" cx="147.89" cy="655.8" r="3"/>
<line class="eb" x1="175.43" x2="175.43" y1="634.77" y2="679.38"/><line class="cp" x1="171.43" x2="179.43" y1="634.77" y2="634.77"/><line class="cp" x1="171.43" x2="179.43" y1="679.38" y2="679.38"/><circle class="mk" cx="175.43" cy="657.03" r="3"/>
<line class="eb" x1="202.97" x2="202.97" y1="631.56" y2="674.21"/><line class="cp" x1="198.97" x2="206.97" y1="631.56" y2="631.56"/><line class="cp" x1="198.97" x2="206.97" y1="674.21" y2="674.21"/><circle class="mk" cx="202.97" cy="653.01" r="3"/>
<line class="eb" x1="230.51" x2="230.51" y1="636.57" y2="674.78"/><line class="cp" x1="226.51" x2="234.51" y1="636.57" y2="636.57"/><line class="cp" x1="226.51" x2="234.51" y1="674.78" y2="674.78"/><circle class="mk" cx="230.51" cy="655.8" r="3"/>
<line class="eb" x1="258.05" x2="258.05" y1="647.42" y2="680.78"/><line class="cp" x1="254.05" x2="262.05" y1="647.42" y2="647.42"/><line class="cp" x1="254.05" x2="262.05" y1="680.78" y2="680.78"/><circle class="mk" cx="258.05" cy="664.18" r="3"/>
<line class="eb" x1="285.59" x2="285.59" y1="665.41" y2="694.42"/><line class="cp" x1="281.59" x2="289.59" y1="665.41" y2="665.41"/><line class="cp" x1="281.59" x2="289.59" y1="694.42" y2="694.42"/><circle class="mk" cx="285.59" cy="679.96" r="3"/>
</g>
<rect class="sp" x="51.5" y="627.5" width="275.4" height="99"/>
<line class="tm" x1="48" x2="51.5" y1="702.15" y2="702.15"/><text class="tk" x="45.5" y="707.25" text-anchor="end" textLength="29.3" lengthAdjust="spacingAndGlyphs">0.038</text>
<line class="tm" x1="48" x2="51.5" y1="685.65" y2="685.65"/><text class="tk" x="45.5" y="690.75" text-anchor="end" textLength="29.3" lengthAdjust="spacingAndGlyphs">0.040</text>
<line class="tm" x1="48" x2="51.5" y1="669.15" y2="669.15"/><text class="tk" x="45.5" y="674.25" text-anchor="end" textLength="29.3" lengthAdjust="spacingAndGlyphs">0.042</text>
<line class="tm" x1="48" x2="51.5" y1="652.65" y2="652.65"/><text class="tk" x="45.5" y="657.75" text-anchor="end" textLength="29.3" lengthAdjust="spacingAndGlyphs">0.044</text>
<line class="tm" x1="48" x2="51.5" y1="636.15" y2="636.15"/><text class="tk" x="45.5" y="641.25" text-anchor="end" textLength="29.3" lengthAdjust="spacingAndGlyphs">0.046</text>
<text font-size="14px" transform="translate(9.5,677) rotate(-90)" text-anchor="middle" textLength="22.6" lengthAdjust="spacingAndGlyphs"><tspan font-size="15.5px" dy=".8">|</tspan><tspan class="it" dy="-.8">V</tspan><tspan class="it" font-size="9.6px" dy="2.3">cb</tspan><tspan font-size="15.5px" dy="-1.5">|</tspan></text>
<line class="tm" x1="51.5" x2="51.5" y1="726.5" y2="730"/><text class="tk" x="38.3" y="743.1" textLength="9.8" lengthAdjust="spacingAndGlyphs">−</text><text class="tk" x="48.4" y="742.3">1.0</text>
<line class="tm" x1="120.35" x2="120.35" y1="726.5" y2="730"/><text class="tk" x="107.15" y="743.1" textLength="9.8" lengthAdjust="spacingAndGlyphs">−</text><text class="tk" x="117.25" y="742.3">0.5</text>
<line class="tm" x1="189.2" x2="189.2" y1="726.5" y2="730"/><text class="tk" x="189.2" y="742.3" text-anchor="middle">0.0</text>
<line class="tm" x1="258.05" x2="258.05" y1="726.5" y2="730"/><text class="tk" x="258.05" y="742.3" text-anchor="middle">0.5</text>
<line class="tm" x1="326.9" x2="326.9" y1="726.5" y2="730"/><text class="tk" x="326.9" y="742.3" text-anchor="middle">1.0</text>
<text class="tk" x="189.2" y="756.7" text-anchor="middle" textLength="31.3" lengthAdjust="spacingAndGlyphs">cos<tspan class="it" dx="2.2">θ</tspan><tspan class="it" font-size="9.1px" dy="2">ℓ</tspan></text>
<text class="ti" x="145.77" y="610.8" textLength="29.2" lengthAdjust="spacingAndGlyphs">|<tspan class="it">V</tspan><tspan class="it" font-size="7.1px" dy="1.5">cb</tspan><tspan dy="-1.5">|</tspan><tspan font-size="7.1px" dy="2">AIC</tspan></text>
<text class="ti" x="179.57" y="610.8" textLength="53.55" lengthAdjust="spacingAndGlyphs">= 0.0395(15)</text>
<text class="ti" x="71.62" y="623.6" textLength="37.6" lengthAdjust="spacingAndGlyphs">|<tspan class="it">V</tspan><tspan class="it" font-size="7.1px" dy="1.5">cb</tspan><tspan dy="-1.5">|</tspan><tspan font-size="7.1px" dy="2">Frequ.</tspan></text>
<text class="ti" x="112.22" y="623.6" textLength="51.95" lengthAdjust="spacingAndGlyphs">= 0.0392(14)</text>
<text class="ti" x="171.28" y="623.6" textLength="65.9" lengthAdjust="spacingAndGlyphs">(<tspan class="it">p</tspan>,<tspan class="it" dx="1.8">χ</tspan><tspan font-size="7.1px" dy="-3.5">2</tspan><tspan dy="3.5">/</tspan><tspan class="it">N</tspan><tspan font-size="7.1px" dy="1.5">dof</tspan><tspan dy="-1.5">,</tspan><tspan class="it" dx="1.8">N</tspan><tspan font-size="7.1px" dy="1.5">dof</tspan></text>
<text class="ti" x="241.87" y="623.6" textLength="64.8" lengthAdjust="spacingAndGlyphs">= (0.16,<tspan dx="1.8">1.47,</tspan><tspan dx="1.8">8)</tspan></text>
</g>
<g>
<clipPath id="c8"><rect x="401" y="627.5" width="275.4" height="99"/></clipPath>
<g clip-path="url(#c8)">
<rect x="401" y="661.45" width="275.4" height="30.15" fill="#fcc0a8"/>
<rect x="401" y="672" width="275.4" height="28.6" fill="#cccde8"/>
<rect x="401" y="672" width="275.4" height="19.6" fill="#ce9da5"/>
<line class="rl" x1="401" x2="676.4" y1="661.45" y2="661.45"/>
<line class="rl" x1="401" x2="676.4" y1="676.5" y2="676.5"/>
<line class="rl" x1="401" x2="676.4" y1="691.6" y2="691.6"/>
<line class="eb" x1="414.77" x2="414.77" y1="642.41" y2="681.6"/><line class="cp" x1="410.77" x2="418.77" y1="642.41" y2="642.41"/><line class="cp" x1="410.77" x2="418.77" y1="681.6" y2="681.6"/><circle class="mk" cx="414.77" cy="662.21" r="3"/>
<line class="eb" x1="442.31" x2="442.31" y1="654.4" y2="687.44"/><line class="cp" x1="438.31" x2="446.31" y1="654.4" y2="654.4"/><line class="cp" x1="438.31" x2="446.31" y1="687.44" y2="687.44"/><circle class="mk" cx="442.31" cy="671" r="3"/>
<line class="eb" x1="469.85" x2="469.85" y1="653.17" y2="685.22"/><line class="cp" x1="465.85" x2="473.85" y1="653.17" y2="653.17"/><line class="cp" x1="465.85" x2="473.85" y1="685.22" y2="685.22"/><circle class="mk" cx="469.85" cy="669.19" r="3"/>
<line class="eb" x1="497.39" x2="497.39" y1="650.62" y2="683.16"/><line class="cp" x1="493.39" x2="501.39" y1="650.62" y2="650.62"/><line class="cp" x1="493.39" x2="501.39" y1="683.16" y2="683.16"/><circle class="mk" cx="497.39" cy="666.81" r="3"/>
<line class="eb" x1="524.93" x2="524.93" y1="639.2" y2="678.23"/><line class="cp" x1="520.93" x2="528.93" y1="639.2" y2="639.2"/><line class="cp" x1="520.93" x2="528.93" y1="678.23" y2="678.23"/><circle class="mk" cx="524.93" cy="658.76" r="3"/>
<line class="eb" x1="552.47" x2="552.47" y1="634.6" y2="674.37"/><line class="cp" x1="548.47" x2="556.47" y1="634.6" y2="634.6"/><line class="cp" x1="548.47" x2="556.47" y1="674.37" y2="674.37"/><circle class="mk" cx="552.47" cy="654.4" r="3"/>
<line class="eb" x1="580.01" x2="580.01" y1="652.43" y2="685.22"/><line class="cp" x1="576.01" x2="584.01" y1="652.43" y2="652.43"/><line class="cp" x1="576.01" x2="584.01" y1="685.22" y2="685.22"/><circle class="mk" cx="580.01" cy="668.62" r="3"/>
<line class="eb" x1="607.55" x2="607.55" y1="651.36" y2="683.16"/><line class="cp" x1="603.55" x2="611.55" y1="651.36" y2="651.36"/><line class="cp" x1="603.55" x2="611.55" y1="683.16" y2="683.16"/><circle class="mk" cx="607.55" cy="667.39" r="3"/>
<line class="eb" x1="635.09" x2="635.09" y1="647.17" y2="681.03"/><line class="cp" x1="631.09" x2="639.09" y1="647.17" y2="647.17"/><line class="cp" x1="631.09" x2="639.09" y1="681.03" y2="681.03"/><circle class="mk" cx="635.09" cy="664.02" r="3"/>
</g>
<rect class="sp" x="401" y="627.5" width="275.4" height="99"/>
<line class="tm" x1="397.5" x2="401" y1="702.15" y2="702.15"/><text class="tk" x="395" y="707.25" text-anchor="end" textLength="29.3" lengthAdjust="spacingAndGlyphs">0.038</text>
<line class="tm" x1="397.5" x2="401" y1="685.65" y2="685.65"/><text class="tk" x="395" y="690.75" text-anchor="end" textLength="29.3" lengthAdjust="spacingAndGlyphs">0.040</text>
<line class="tm" x1="397.5" x2="401" y1="669.15" y2="669.15"/><text class="tk" x="395" y="674.25" text-anchor="end" textLength="29.3" lengthAdjust="spacingAndGlyphs">0.042</text>
<line class="tm" x1="397.5" x2="401" y1="652.65" y2="652.65"/><text class="tk" x="395" y="657.75" text-anchor="end" textLength="29.3" lengthAdjust="spacingAndGlyphs">0.044</text>
<line class="tm" x1="397.5" x2="401" y1="636.15" y2="636.15"/><text class="tk" x="395" y="641.25" text-anchor="end" textLength="29.3" lengthAdjust="spacingAndGlyphs">0.046</text>
<text font-size="14px" transform="translate(359,677) rotate(-90)" text-anchor="middle" textLength="22.6" lengthAdjust="spacingAndGlyphs"><tspan font-size="15.5px" dy=".8">|</tspan><tspan class="it" dy="-.8">V</tspan><tspan class="it" font-size="9.6px" dy="2.3">cb</tspan><tspan font-size="15.5px" dy="-1.5">|</tspan></text>
<line class="tm" x1="401" x2="401" y1="726.5" y2="730"/><text class="tk" x="401" y="742.3" text-anchor="middle" textLength="17.6" lengthAdjust="spacingAndGlyphs">−<tspan class="it">π</tspan></text>
<line class="tm" x1="469.85" x2="469.85" y1="726.5" y2="730"/><text class="tk" x="466.95" y="742.7" text-anchor="middle" textLength="10.1" lengthAdjust="spacingAndGlyphs">−</text><text class="it" font-size="9.3px" x="475.45" y="736.9" text-anchor="middle" textLength="6.2" lengthAdjust="spacingAndGlyphs">π</text><line class="tm" x1="472.25" x2="478.75" y1="737.8" y2="737.8" stroke-width=".6"/><text font-size="9.3px" x="475.45" y="746" text-anchor="middle">2</text>
<line class="tm" x1="538.7" x2="538.7" y1="726.5" y2="730"/><text class="tk" x="538.7" y="742.3" text-anchor="middle">0</text>
<line class="tm" x1="607.55" x2="607.55" y1="726.5" y2="730"/><text class="tk" x="604.65" y="742.7" text-anchor="middle" textLength="10.1" lengthAdjust="spacingAndGlyphs">−</text><text class="it" font-size="9.3px" x="613.15" y="736.9" text-anchor="middle" textLength="6.2" lengthAdjust="spacingAndGlyphs">π</text><line class="tm" x1="609.95" x2="616.45" y1="737.8" y2="737.8" stroke-width=".6"/><text font-size="9.3px" x="613.15" y="746" text-anchor="middle">2</text>
<line class="tm" x1="676.4" x2="676.4" y1="726.5" y2="730"/><text class="tk" x="676.4" y="742.3" text-anchor="middle" textLength="17.6" lengthAdjust="spacingAndGlyphs">+<tspan class="it">π</tspan></text>
<text class="tk it" x="538.7" y="758.1" text-anchor="middle">χ</text>
<text class="ti" x="495.27" y="610.8" textLength="29.2" lengthAdjust="spacingAndGlyphs">|<tspan class="it">V</tspan><tspan class="it" font-size="7.1px" dy="1.5">cb</tspan><tspan dy="-1.5">|</tspan><tspan font-size="7.1px" dy="2">AIC</tspan></text>
<text class="ti" x="529.08" y="610.8" textLength="53.55" lengthAdjust="spacingAndGlyphs">= 0.0411(18)</text>
<text class="ti" x="421.13" y="623.6" textLength="37.6" lengthAdjust="spacingAndGlyphs">|<tspan class="it">V</tspan><tspan class="it" font-size="7.1px" dy="1.5">cb</tspan><tspan dy="-1.5">|</tspan><tspan font-size="7.1px" dy="2">Frequ.</tspan></text>
<text class="ti" x="461.73" y="623.6" textLength="51.95" lengthAdjust="spacingAndGlyphs">= 0.0399(17)</text>
<text class="ti" x="520.78" y="623.6" textLength="65.9" lengthAdjust="spacingAndGlyphs">(<tspan class="it">p</tspan>,<tspan class="it" dx="1.8">χ</tspan><tspan font-size="7.1px" dy="-3.5">2</tspan><tspan dy="3.5">/</tspan><tspan class="it">N</tspan><tspan font-size="7.1px" dy="1.5">dof</tspan><tspan dy="-1.5">,</tspan><tspan class="it" dx="1.8">N</tspan><tspan font-size="7.1px" dy="1.5">dof</tspan></text>
<text class="ti" x="591.38" y="623.6" textLength="64.8" lengthAdjust="spacingAndGlyphs">= (0.12,<tspan dx="1.8">1.60,</tspan><tspan dx="1.8">8)</tspan></text>
</g>
<g>
<clipPath id="c9"><rect x="51.5" y="852" width="275.4" height="99"/></clipPath>
<g clip-path="url(#c9)">
<rect x="51.5" y="893.99" width="275.4" height="16" fill="#fcc0a8"/>
<rect x="51.5" y="894.16" width="275.4" height="15.01" fill="#cccde8"/>
<rect x="51.5" y="894.16" width="275.4" height="15.01" fill="#ce9da5"/>
<line class="rl" x1="51.5" x2="326.9" y1="893.99" y2="893.99"/>
<line class="rl" x1="51.5" x2="326.9" y1="902" y2="902"/>
<line class="rl" x1="51.5" x2="326.9" y1="910" y2="910"/>
<line class="eb" x1="65.27" x2="65.27" y1="891.6" y2="907.22"/><line class="cp" x1="61.27" x2="69.27" y1="891.6" y2="891.6"/><line class="cp" x1="61.27" x2="69.27" y1="907.22" y2="907.22"/><circle class="mk" cx="65.27" cy="899.41" r="3"/>
<line class="eb" x1="92.81" x2="92.81" y1="899.16" y2="914.61"/><line class="cp" x1="88.81" x2="96.81" y1="899.16" y2="899.16"/><line class="cp" x1="88.81" x2="96.81" y1="914.61" y2="914.61"/><circle class="mk" cx="92.81" cy="906.81" r="3"/>
<line class="eb" x1="120.35" x2="120.35" y1="897.6" y2="915.19"/><line class="cp" x1="116.35" x2="124.35" y1="897.6" y2="897.6"/><line class="cp" x1="116.35" x2="124.35" y1="915.19" y2="915.19"/><circle class="mk" cx="120.35" cy="906.39" r="3"/>
<line class="eb" x1="147.89" x2="147.89" y1="895.38" y2="915.76"/><line class="cp" x1="143.89" x2="151.89" y1="895.38" y2="895.38"/><line class="cp" x1="143.89" x2="151.89" y1="915.76" y2="915.76"/><circle class="mk" cx="147.89" cy="905.57" r="3"/>
<line class="eb" x1="175.43" x2="175.43" y1="897.44" y2="920.36"/><line class="cp" x1="171.43" x2="179.43" y1="897.44" y2="897.44"/><line class="cp" x1="171.43" x2="179.43" y1="920.36" y2="920.36"/><circle class="mk" cx="175.43" cy="908.78" r="3"/>
<line class="eb" x1="202.97" x2="202.97" y1="899.57" y2="926.77"/><line class="cp" x1="198.97" x2="206.97" y1="899.57" y2="899.57"/><line class="cp" x1="198.97" x2="206.97" y1="926.77" y2="926.77"/><circle class="mk" cx="202.97" cy="913.38" r="3"/>
<line class="eb" x1="230.51" x2="230.51" y1="900.56" y2="932.19"/><line class="cp" x1="226.51" x2="234.51" y1="900.56" y2="900.56"/><line class="cp" x1="226.51" x2="234.51" y1="932.19" y2="932.19"/><circle class="mk" cx="230.51" cy="916.42" r="3"/>
<line class="eb" x1="258.05" x2="258.05" y1="900.4" y2="938.03"/><line class="cp" x1="254.05" x2="262.05" y1="900.4" y2="900.4"/><line class="cp" x1="254.05" x2="262.05" y1="938.03" y2="938.03"/><circle class="mk" cx="258.05" cy="919.38" r="3"/>
<line class="eb" x1="285.59" x2="285.59" y1="895.38" y2="941.56"/><line class="cp" x1="281.59" x2="289.59" y1="895.38" y2="895.38"/><line class="cp" x1="281.59" x2="289.59" y1="941.56" y2="941.56"/><circle class="mk" cx="285.59" cy="918.39" r="3"/>
</g>
<rect class="sp" x="51.5" y="852" width="275.4" height="99"/>
<line class="tm" x1="48" x2="51.5" y1="926.25" y2="926.25"/><text class="tk" x="45.5" y="931.35" text-anchor="end" textLength="29.3" lengthAdjust="spacingAndGlyphs">0.038</text>
<line class="tm" x1="48" x2="51.5" y1="909.75" y2="909.75"/><text class="tk" x="45.5" y="914.85" text-anchor="end" textLength="29.3" lengthAdjust="spacingAndGlyphs">0.040</text>
<line class="tm" x1="48" x2="51.5" y1="893.25" y2="893.25"/><text class="tk" x="45.5" y="898.35" text-anchor="end" textLength="29.3" lengthAdjust="spacingAndGlyphs">0.042</text>
<line class="tm" x1="48" x2="51.5" y1="876.75" y2="876.75"/><text class="tk" x="45.5" y="881.85" text-anchor="end" textLength="29.3" lengthAdjust="spacingAndGlyphs">0.044</text>
<line class="tm" x1="48" x2="51.5" y1="860.25" y2="860.25"/><text class="tk" x="45.5" y="865.35" text-anchor="end" textLength="29.3" lengthAdjust="spacingAndGlyphs">0.046</text>
<text font-size="14px" transform="translate(9.5,901.5) rotate(-90)" text-anchor="middle" textLength="22.6" lengthAdjust="spacingAndGlyphs"><tspan font-size="15.5px" dy=".8">|</tspan><tspan class="it" dy="-.8">V</tspan><tspan class="it" font-size="9.6px" dy="2.3">cb</tspan><tspan font-size="15.5px" dy="-1.5">|</tspan></text>
<line class="tm" x1="51.5" x2="51.5" y1="951" y2="954.5"/><text class="tk" x="51.5" y="966.8" text-anchor="middle">1.0</text>
<line class="tm" x1="106.58" x2="106.58" y1="951" y2="954.5"/><text class="tk" x="106.58" y="966.8" text-anchor="middle">1.1</text>
<line class="tm" x1="161.66" x2="161.66" y1="951" y2="954.5"/><text class="tk" x="161.66" y="966.8" text-anchor="middle">1.2</text>
<line class="tm" x1="216.74" x2="216.74" y1="951" y2="954.5"/><text class="tk" x="216.74" y="966.8" text-anchor="middle">1.3</text>
<line class="tm" x1="271.82" x2="271.82" y1="951" y2="954.5"/><text class="tk" x="271.82" y="966.8" text-anchor="middle">1.4</text>
<line class="tm" x1="326.9" x2="326.9" y1="951" y2="954.5"/><text class="tk" x="326.9" y="966.8" text-anchor="middle">1.5</text>
<text class="tk it" x="189.2" y="981.3" text-anchor="middle">w</text>
<text class="ti" x="143.45" y="835.3" textLength="29.2" lengthAdjust="spacingAndGlyphs">|<tspan class="it">V</tspan><tspan class="it" font-size="7.1px" dy="1.5">cb</tspan><tspan dy="-1.5">|</tspan><tspan font-size="7.1px" dy="2">AIC</tspan></text>
<text class="ti" x="177.25" y="835.3" textLength="58.2" lengthAdjust="spacingAndGlyphs">= 0.04094(97)</text>
<text class="ti" x="69.3" y="848.1" textLength="37.6" lengthAdjust="spacingAndGlyphs">|<tspan class="it">V</tspan><tspan class="it" font-size="7.1px" dy="1.5">cb</tspan><tspan dy="-1.5">|</tspan><tspan font-size="7.1px" dy="2">Frequ.</tspan></text>
<text class="ti" x="109.9" y="848.1" textLength="56.6" lengthAdjust="spacingAndGlyphs">= 0.04098(91)</text>
<text class="ti" x="173.6" y="848.1" textLength="65.9" lengthAdjust="spacingAndGlyphs">(<tspan class="it">p</tspan>,<tspan class="it" dx="1.8">χ</tspan><tspan font-size="7.1px" dy="-3.5">2</tspan><tspan dy="3.5">/</tspan><tspan class="it">N</tspan><tspan font-size="7.1px" dy="1.5">dof</tspan><tspan dy="-1.5">,</tspan><tspan class="it" dx="1.8">N</tspan><tspan font-size="7.1px" dy="1.5">dof</tspan></text>
<text class="ti" x="244.2" y="848.1" textLength="64.8" lengthAdjust="spacingAndGlyphs">= (0.62,<tspan dx="1.8">0.78,</tspan><tspan dx="1.8">8)</tspan></text>
</g>
<g>
<clipPath id="c10"><rect x="401" y="852" width="275.4" height="99"/></clipPath>
<g clip-path="url(#c10)">
<rect x="401" y="900.05" width="275.4" height="27.35" fill="#fcc0a8"/>
<rect x="401" y="912.3" width="275.4" height="22.4" fill="#cccde8"/>
<rect x="401" y="912.3" width="275.4" height="15.1" fill="#ce9da5"/>
<line class="rl" x1="401" x2="676.4" y1="900.05" y2="900.05"/>
<line class="rl" x1="401" x2="676.4" y1="913.7" y2="913.7"/>
<line class="rl" x1="401" x2="676.4" y1="927.4" y2="927.4"/>
<line class="eb" x1="414.77" x2="414.77" y1="891.77" y2="931.37"/><line class="cp" x1="410.77" x2="418.77" y1="891.77" y2="891.77"/><line class="cp" x1="410.77" x2="418.77" y1="931.37" y2="931.37"/><circle class="mk" cx="414.77" cy="911.57" r="3"/>
<line class="eb" x1="442.31" x2="442.31" y1="899.57" y2="930.96"/><line class="cp" x1="438.31" x2="446.31" y1="899.57" y2="899.57"/><line class="cp" x1="438.31" x2="446.31" y1="930.96" y2="930.96"/><circle class="mk" cx="442.31" cy="915.19" r="3"/>
<line class="eb" x1="469.85" x2="469.85" y1="901.38" y2="926.2"/><line class="cp" x1="465.85" x2="473.85" y1="901.38" y2="901.38"/><line class="cp" x1="465.85" x2="473.85" y1="926.2" y2="926.2"/><circle class="mk" cx="469.85" cy="913.62" r="3"/>
<line class="eb" x1="497.39" x2="497.39" y1="904.83" y2="926.36"/><line class="cp" x1="493.39" x2="501.39" y1="904.83" y2="904.83"/><line class="cp" x1="493.39" x2="501.39" y1="926.36" y2="926.36"/><circle class="mk" cx="497.39" cy="915.6" r="3"/>
<line class="eb" x1="524.93" x2="524.93" y1="903.76" y2="925.62"/><line class="cp" x1="520.93" x2="528.93" y1="903.76" y2="903.76"/><line class="cp" x1="520.93" x2="528.93" y1="925.62" y2="925.62"/><circle class="mk" cx="524.93" cy="914.78" r="3"/>
<line class="eb" x1="552.47" x2="552.47" y1="900.56" y2="922.17"/><line class="cp" x1="548.47" x2="556.47" y1="900.56" y2="900.56"/><line class="cp" x1="548.47" x2="556.47" y1="922.17" y2="922.17"/><circle class="mk" cx="552.47" cy="911.41" r="3"/>
<line class="eb" x1="580.01" x2="580.01" y1="897.77" y2="920.03"/><line class="cp" x1="576.01" x2="584.01" y1="897.77" y2="897.77"/><line class="cp" x1="576.01" x2="584.01" y1="920.03" y2="920.03"/><circle class="mk" cx="580.01" cy="909.02" r="3"/>
<line class="eb" x1="607.55" x2="607.55" y1="895.63" y2="921.18"/><line class="cp" x1="603.55" x2="611.55" y1="895.63" y2="895.63"/><line class="cp" x1="603.55" x2="611.55" y1="921.18" y2="921.18"/><circle class="mk" cx="607.55" cy="908.37" r="3"/>
<line class="eb" x1="635.09" x2="635.09" y1="893.99" y2="926.36"/><line class="cp" x1="631.09" x2="639.09" y1="893.99" y2="893.99"/><line class="cp" x1="631.09" x2="639.09" y1="926.36" y2="926.36"/><circle class="mk" cx="635.09" cy="910.01" r="3"/>
</g>
<rect class="sp" x="401" y="852" width="275.4" height="99"/>
<line class="tm" x1="397.5" x2="401" y1="926.25" y2="926.25"/><text class="tk" x="395" y="931.35" text-anchor="end" textLength="29.3" lengthAdjust="spacingAndGlyphs">0.038</text>
<line class="tm" x1="397.5" x2="401" y1="909.75" y2="909.75"/><text class="tk" x="395" y="914.85" text-anchor="end" textLength="29.3" lengthAdjust="spacingAndGlyphs">0.040</text>
<line class="tm" x1="397.5" x2="401" y1="893.25" y2="893.25"/><text class="tk" x="395" y="898.35" text-anchor="end" textLength="29.3" lengthAdjust="spacingAndGlyphs">0.042</text>
<line class="tm" x1="397.5" x2="401" y1="876.75" y2="876.75"/><text class="tk" x="395" y="881.85" text-anchor="end" textLength="29.3" lengthAdjust="spacingAndGlyphs">0.044</text>
<line class="tm" x1="397.5" x2="401" y1="860.25" y2="860.25"/><text class="tk" x="395" y="865.35" text-anchor="end" textLength="29.3" lengthAdjust="spacingAndGlyphs">0.046</text>
<text font-size="14px" transform="translate(359,901.5) rotate(-90)" text-anchor="middle" textLength="22.6" lengthAdjust="spacingAndGlyphs"><tspan font-size="15.5px" dy=".8">|</tspan><tspan class="it" dy="-.8">V</tspan><tspan class="it" font-size="9.6px" dy="2.3">cb</tspan><tspan font-size="15.5px" dy="-1.5">|</tspan></text>
<line class="tm" x1="401" x2="401" y1="951" y2="954.5"/><text class="tk" x="387.8" y="967.6" textLength="9.8" lengthAdjust="spacingAndGlyphs">−</text><text class="tk" x="397.9" y="966.8">1.0</text>
<line class="tm" x1="469.85" x2="469.85" y1="951" y2="954.5"/><text class="tk" x="456.65" y="967.6" textLength="9.8" lengthAdjust="spacingAndGlyphs">−</text><text class="tk" x="466.75" y="966.8">0.5</text>
<line class="tm" x1="538.7" x2="538.7" y1="951" y2="954.5"/><text class="tk" x="538.7" y="966.8" text-anchor="middle">0.0</text>
<line class="tm" x1="607.55" x2="607.55" y1="951" y2="954.5"/><text class="tk" x="607.55" y="966.8" text-anchor="middle">0.5</text>
<line class="tm" x1="676.4" x2="676.4" y1="951" y2="954.5"/><text class="tk" x="676.4" y="966.8" text-anchor="middle">1.0</text>
<text class="tk" x="538.7" y="981.2" text-anchor="middle" textLength="31.3" lengthAdjust="spacingAndGlyphs">cos<tspan class="it" dx="2.2">θ</tspan><tspan class="it" font-size="9.1px" dy="2">v</tspan></text>
<text class="ti" x="495.27" y="835.3" textLength="29.2" lengthAdjust="spacingAndGlyphs">|<tspan class="it">V</tspan><tspan class="it" font-size="7.1px" dy="1.5">cb</tspan><tspan dy="-1.5">|</tspan><tspan font-size="7.1px" dy="2">AIC</tspan></text>
<text class="ti" x="529.08" y="835.3" textLength="53.55" lengthAdjust="spacingAndGlyphs">= 0.0395(17)</text>
<text class="ti" x="421.13" y="848.1" textLength="37.6" lengthAdjust="spacingAndGlyphs">|<tspan class="it">V</tspan><tspan class="it" font-size="7.1px" dy="1.5">cb</tspan><tspan dy="-1.5">|</tspan><tspan font-size="7.1px" dy="2">Frequ.</tspan></text>
<text class="ti" x="461.73" y="848.1" textLength="51.95" lengthAdjust="spacingAndGlyphs">= 0.0383(13)</text>
<text class="ti" x="520.78" y="848.1" textLength="65.9" lengthAdjust="spacingAndGlyphs">(<tspan class="it">p</tspan>,<tspan class="it" dx="1.8">χ</tspan><tspan font-size="7.1px" dy="-3.5">2</tspan><tspan dy="3.5">/</tspan><tspan class="it">N</tspan><tspan font-size="7.1px" dy="1.5">dof</tspan><tspan dy="-1.5">,</tspan><tspan class="it" dx="1.8">N</tspan><tspan font-size="7.1px" dy="1.5">dof</tspan></text>
<text class="ti" x="591.38" y="848.1" textLength="64.8" lengthAdjust="spacingAndGlyphs">= (0.09,<tspan dx="1.8">1.70,</tspan><tspan dx="1.8">8)</tspan></text>
</g>
<g>
<clipPath id="c11"><rect x="51.5" y="1022.5" width="275.4" height="99"/></clipPath>
<g clip-path="url(#c11)">
<rect x="51.5" y="1074.08" width="275.4" height="21.45" fill="#fcc0a8"/>
<rect x="51.5" y="1075.72" width="275.4" height="21.45" fill="#cccde8"/>
<rect x="51.5" y="1075.72" width="275.4" height="19.8" fill="#ce9da5"/>
<line class="rl" x1="51.5" x2="326.9" y1="1074.08" y2="1074.08"/>
<line class="rl" x1="51.5" x2="326.9" y1="1084.8" y2="1084.8"/>
<line class="rl" x1="51.5" x2="326.9" y1="1095.53" y2="1095.53"/>
<line class="eb" x1="65.27" x2="65.27" y1="1073.64" y2="1114.39"/><line class="cp" x1="61.27" x2="69.27" y1="1073.64" y2="1073.64"/><line class="cp" x1="61.27" x2="69.27" y1="1114.39" y2="1114.39"/><circle class="mk" cx="65.27" cy="1094.01" r="3"/>
<line class="eb" x1="92.81" x2="92.81" y1="1073.64" y2="1113.16"/><line class="cp" x1="88.81" x2="96.81" y1="1073.64" y2="1073.64"/><line class="cp" x1="88.81" x2="96.81" y1="1113.16" y2="1113.16"/><circle class="mk" cx="92.81" cy="1093.36" r="3"/>
<line class="eb" x1="120.35" x2="120.35" y1="1052.03" y2="1090.23"/><line class="cp" x1="116.35" x2="124.35" y1="1052.03" y2="1052.03"/><line class="cp" x1="116.35" x2="124.35" y1="1090.23" y2="1090.23"/><circle class="mk" cx="120.35" cy="1071.01" r="3"/>
<line class="eb" x1="147.89" x2="147.89" y1="1068.79" y2="1102.56"/><line class="cp" x1="143.89" x2="151.89" y1="1068.79" y2="1068.79"/><line class="cp" x1="143.89" x2="151.89" y1="1102.56" y2="1102.56"/><circle class="mk" cx="147.89" cy="1085.8" r="3"/>
<line class="eb" x1="175.43" x2="175.43" y1="1068.79" y2="1101.98"/><line class="cp" x1="171.43" x2="179.43" y1="1068.79" y2="1068.79"/><line class="cp" x1="171.43" x2="179.43" y1="1101.98" y2="1101.98"/><circle class="mk" cx="175.43" cy="1085.39" r="3"/>
<line class="eb" x1="202.97" x2="202.97" y1="1062.79" y2="1094.18"/><line class="cp" x1="198.97" x2="206.97" y1="1062.79" y2="1062.79"/><line class="cp" x1="198.97" x2="206.97" y1="1094.18" y2="1094.18"/><circle class="mk" cx="202.97" cy="1078.57" r="3"/>
<line class="eb" x1="230.51" x2="230.51" y1="1061.56" y2="1091.22"/><line class="cp" x1="226.51" x2="234.51" y1="1061.56" y2="1061.56"/><line class="cp" x1="226.51" x2="234.51" y1="1091.22" y2="1091.22"/><circle class="mk" cx="230.51" cy="1076.18" r="3"/>
<line class="eb" x1="258.05" x2="258.05" y1="1064.19" y2="1091.38"/><line class="cp" x1="254.05" x2="262.05" y1="1064.19" y2="1064.19"/><line class="cp" x1="254.05" x2="262.05" y1="1091.38" y2="1091.38"/><circle class="mk" cx="258.05" cy="1077.83" r="3"/>
<line class="eb" x1="285.59" x2="285.59" y1="1072.98" y2="1096.97"/><line class="cp" x1="281.59" x2="289.59" y1="1072.98" y2="1072.98"/><line class="cp" x1="281.59" x2="289.59" y1="1096.97" y2="1096.97"/><circle class="mk" cx="285.59" cy="1084.98" r="3"/>
</g>
<rect class="sp" x="51.5" y="1022.5" width="275.4" height="99"/>
<line class="tm" x1="48" x2="51.5" y1="1096.35" y2="1096.35"/><text class="tk" x="45.5" y="1101.45" text-anchor="end" textLength="29.3" lengthAdjust="spacingAndGlyphs">0.038</text>
<line class="tm" x1="48" x2="51.5" y1="1079.85" y2="1079.85"/><text class="tk" x="45.5" y="1084.95" text-anchor="end" textLength="29.3" lengthAdjust="spacingAndGlyphs">0.040</text>
<line class="tm" x1="48" x2="51.5" y1="1063.35" y2="1063.35"/><text class="tk" x="45.5" y="1068.45" text-anchor="end" textLength="29.3" lengthAdjust="spacingAndGlyphs">0.042</text>
<line class="tm" x1="48" x2="51.5" y1="1046.85" y2="1046.85"/><text class="tk" x="45.5" y="1051.95" text-anchor="end" textLength="29.3" lengthAdjust="spacingAndGlyphs">0.044</text>
<line class="tm" x1="48" x2="51.5" y1="1030.35" y2="1030.35"/><text class="tk" x="45.5" y="1035.45" text-anchor="end" textLength="29.3" lengthAdjust="spacingAndGlyphs">0.046</text>
<text font-size="14px" transform="translate(9.5,1072) rotate(-90)" text-anchor="middle" textLength="22.6" lengthAdjust="spacingAndGlyphs"><tspan font-size="15.5px" dy=".8">|</tspan><tspan class="it" dy="-.8">V</tspan><tspan class="it" font-size="9.6px" dy="2.3">cb</tspan><tspan font-size="15.5px" dy="-1.5">|</tspan></text>
<line class="tm" x1="51.5" x2="51.5" y1="1121.5" y2="1125"/><text class="tk" x="38.3" y="1138.1" textLength="9.8" lengthAdjust="spacingAndGlyphs">−</text><text class="tk" x="48.4" y="1137.3">1.0</text>
<line class="tm" x1="120.35" x2="120.35" y1="1121.5" y2="1125"/><text class="tk" x="107.15" y="1138.1" textLength="9.8" lengthAdjust="spacingAndGlyphs">−</text><text class="tk" x="117.25" y="1137.3">0.5</text>
<line class="tm" x1="189.2" x2="189.2" y1="1121.5" y2="1125"/><text class="tk" x="189.2" y="1137.3" text-anchor="middle">0.0</text>
<line class="tm" x1="258.05" x2="258.05" y1="1121.5" y2="1125"/><text class="tk" x="258.05" y="1137.3" text-anchor="middle">0.5</text>
<line class="tm" x1="326.9" x2="326.9" y1="1121.5" y2="1125"/><text class="tk" x="326.9" y="1137.3" text-anchor="middle">1.0</text>
<text class="tk" x="189.2" y="1151.7" text-anchor="middle" textLength="31.3" lengthAdjust="spacingAndGlyphs">cos<tspan class="it" dx="2.2">θ</tspan><tspan class="it" font-size="9.1px" dy="2">ℓ</tspan></text>
<text class="ti" x="145.77" y="1005.8" textLength="29.2" lengthAdjust="spacingAndGlyphs">|<tspan class="it">V</tspan><tspan class="it" font-size="7.1px" dy="1.5">cb</tspan><tspan dy="-1.5">|</tspan><tspan font-size="7.1px" dy="2">AIC</tspan></text>
<text class="ti" x="179.57" y="1005.8" textLength="53.55" lengthAdjust="spacingAndGlyphs">= 0.0394(13)</text>
<text class="ti" x="71.62" y="1018.6" textLength="37.6" lengthAdjust="spacingAndGlyphs">|<tspan class="it">V</tspan><tspan class="it" font-size="7.1px" dy="1.5">cb</tspan><tspan dy="-1.5">|</tspan><tspan font-size="7.1px" dy="2">Frequ.</tspan></text>
<text class="ti" x="112.22" y="1018.6" textLength="51.95" lengthAdjust="spacingAndGlyphs">= 0.0392(13)</text>
<text class="ti" x="171.28" y="1018.6" textLength="65.9" lengthAdjust="spacingAndGlyphs">(<tspan class="it">p</tspan>,<tspan class="it" dx="1.8">χ</tspan><tspan font-size="7.1px" dy="-3.5">2</tspan><tspan dy="3.5">/</tspan><tspan class="it">N</tspan><tspan font-size="7.1px" dy="1.5">dof</tspan><tspan dy="-1.5">,</tspan><tspan class="it" dx="1.8">N</tspan><tspan font-size="7.1px" dy="1.5">dof</tspan></text>
<text class="ti" x="241.87" y="1018.6" textLength="64.8" lengthAdjust="spacingAndGlyphs">= (0.36,<tspan dx="1.8">1.10,</tspan><tspan dx="1.8">8)</tspan></text>
</g>
<g>
<clipPath id="c12"><rect x="401" y="1022.5" width="275.4" height="99"/></clipPath>
<g clip-path="url(#c12)">
<rect x="401" y="1072.25" width="275.4" height="25.15" fill="#fcc0a8"/>
<rect x="401" y="1078.5" width="275.4" height="24.1" fill="#cccde8"/>
<rect x="401" y="1078.5" width="275.4" height="18.9" fill="#ce9da5"/>
<line class="rl" x1="401" x2="676.4" y1="1072.25" y2="1072.25"/>
<line class="rl" x1="401" x2="676.4" y1="1084.8" y2="1084.8"/>
<line class="rl" x1="401" x2="676.4" y1="1097.4" y2="1097.4"/>
<line class="eb" x1="414.77" x2="414.77" y1="1068.38" y2="1099.19"/><line class="cp" x1="410.77" x2="418.77" y1="1068.38" y2="1068.38"/><line class="cp" x1="410.77" x2="418.77" y1="1099.19" y2="1099.19"/><circle class="mk" cx="414.77" cy="1083.99" r="3"/>
<line class="eb" x1="442.31" x2="442.31" y1="1073.39" y2="1099.19"/><line class="cp" x1="438.31" x2="446.31" y1="1073.39" y2="1073.39"/><line class="cp" x1="438.31" x2="446.31" y1="1099.19" y2="1099.19"/><circle class="mk" cx="442.31" cy="1086.21" r="3"/>
<line class="eb" x1="469.85" x2="469.85" y1="1069.2" y2="1094.18"/><line class="cp" x1="465.85" x2="473.85" y1="1069.2" y2="1069.2"/><line class="cp" x1="465.85" x2="473.85" y1="1094.18" y2="1094.18"/><circle class="mk" cx="469.85" cy="1081.61" r="3"/>
<line class="eb" x1="497.39" x2="497.39" y1="1069.04" y2="1095.57"/><line class="cp" x1="493.39" x2="501.39" y1="1069.04" y2="1069.04"/><line class="cp" x1="493.39" x2="501.39" y1="1095.57" y2="1095.57"/><circle class="mk" cx="497.39" cy="1082.18" r="3"/>
<line class="eb" x1="524.93" x2="524.93" y1="1065.17" y2="1095.57"/><line class="cp" x1="520.93" x2="528.93" y1="1065.17" y2="1065.17"/><line class="cp" x1="520.93" x2="528.93" y1="1095.57" y2="1095.57"/><circle class="mk" cx="524.93" cy="1080.37" r="3"/>
<line class="eb" x1="552.47" x2="552.47" y1="1061.56" y2="1091.96"/><line class="cp" x1="548.47" x2="556.47" y1="1061.56" y2="1061.56"/><line class="cp" x1="548.47" x2="556.47" y1="1091.96" y2="1091.96"/><circle class="mk" cx="552.47" cy="1076.59" r="3"/>
<line class="eb" x1="580.01" x2="580.01" y1="1070.6" y2="1097.22"/><line class="cp" x1="576.01" x2="584.01" y1="1070.6" y2="1070.6"/><line class="cp" x1="576.01" x2="584.01" y1="1097.22" y2="1097.22"/><circle class="mk" cx="580.01" cy="1083.99" r="3"/>
<line class="eb" x1="607.55" x2="607.55" y1="1067.39" y2="1093.03"/><line class="cp" x1="603.55" x2="611.55" y1="1067.39" y2="1067.39"/><line class="cp" x1="603.55" x2="611.55" y1="1093.03" y2="1093.03"/><circle class="mk" cx="607.55" cy="1080.37" r="3"/>
<line class="eb" x1="635.09" x2="635.09" y1="1066.16" y2="1093.03"/><line class="cp" x1="631.09" x2="639.09" y1="1066.16" y2="1066.16"/><line class="cp" x1="631.09" x2="639.09" y1="1093.03" y2="1093.03"/><circle class="mk" cx="635.09" cy="1079.63" r="3"/>
</g>
<rect class="sp" x="401" y="1022.5" width="275.4" height="99"/>
<line class="tm" x1="397.5" x2="401" y1="1096.35" y2="1096.35"/><text class="tk" x="395" y="1101.45" text-anchor="end" textLength="29.3" lengthAdjust="spacingAndGlyphs">0.038</text>
<line class="tm" x1="397.5" x2="401" y1="1079.85" y2="1079.85"/><text class="tk" x="395" y="1084.95" text-anchor="end" textLength="29.3" lengthAdjust="spacingAndGlyphs">0.040</text>
<line class="tm" x1="397.5" x2="401" y1="1063.35" y2="1063.35"/><text class="tk" x="395" y="1068.45" text-anchor="end" textLength="29.3" lengthAdjust="spacingAndGlyphs">0.042</text>
<line class="tm" x1="397.5" x2="401" y1="1046.85" y2="1046.85"/><text class="tk" x="395" y="1051.95" text-anchor="end" textLength="29.3" lengthAdjust="spacingAndGlyphs">0.044</text>
<line class="tm" x1="397.5" x2="401" y1="1030.35" y2="1030.35"/><text class="tk" x="395" y="1035.45" text-anchor="end" textLength="29.3" lengthAdjust="spacingAndGlyphs">0.046</text>
<text font-size="14px" transform="translate(359,1072) rotate(-90)" text-anchor="middle" textLength="22.6" lengthAdjust="spacingAndGlyphs"><tspan font-size="15.5px" dy=".8">|</tspan><tspan class="it" dy="-.8">V</tspan><tspan class="it" font-size="9.6px" dy="2.3">cb</tspan><tspan font-size="15.5px" dy="-1.5">|</tspan></text>
<line class="tm" x1="401" x2="401" y1="1121.5" y2="1125"/><text class="tk" x="401" y="1137.3" text-anchor="middle" textLength="17.6" lengthAdjust="spacingAndGlyphs">−<tspan class="it">π</tspan></text>
<line class="tm" x1="469.85" x2="469.85" y1="1121.5" y2="1125"/><text class="tk" x="466.95" y="1137.7" text-anchor="middle" textLength="10.1" lengthAdjust="spacingAndGlyphs">−</text><text class="it" font-size="9.3px" x="475.45" y="1131.9" text-anchor="middle" textLength="6.2" lengthAdjust="spacingAndGlyphs">π</text><line class="tm" x1="472.25" x2="478.75" y1="1132.8" y2="1132.8" stroke-width=".6"/><text font-size="9.3px" x="475.45" y="1141" text-anchor="middle">2</text>
<line class="tm" x1="538.7" x2="538.7" y1="1121.5" y2="1125"/><text class="tk" x="538.7" y="1137.3" text-anchor="middle">0</text>
<line class="tm" x1="607.55" x2="607.55" y1="1121.5" y2="1125"/><text class="tk" x="604.65" y="1137.7" text-anchor="middle" textLength="10.1" lengthAdjust="spacingAndGlyphs">−</text><text class="it" font-size="9.3px" x="613.15" y="1131.9" text-anchor="middle" textLength="6.2" lengthAdjust="spacingAndGlyphs">π</text><line class="tm" x1="609.95" x2="616.45" y1="1132.8" y2="1132.8" stroke-width=".6"/><text font-size="9.3px" x="613.15" y="1141" text-anchor="middle">2</text>
<line class="tm" x1="676.4" x2="676.4" y1="1121.5" y2="1125"/><text class="tk" x="676.4" y="1137.3" text-anchor="middle" textLength="17.6" lengthAdjust="spacingAndGlyphs">+<tspan class="it">π</tspan></text>
<text class="tk it" x="538.7" y="1153.1" text-anchor="middle">χ</text>
<text class="ti" x="495.27" y="1005.8" textLength="29.2" lengthAdjust="spacingAndGlyphs">|<tspan class="it">V</tspan><tspan class="it" font-size="7.1px" dy="1.5">cb</tspan><tspan dy="-1.5">|</tspan><tspan font-size="7.1px" dy="2">AIC</tspan></text>
<text class="ti" x="529.08" y="1005.8" textLength="53.55" lengthAdjust="spacingAndGlyphs">= 0.0394(15)</text>
<text class="ti" x="421.13" y="1018.6" textLength="37.6" lengthAdjust="spacingAndGlyphs">|<tspan class="it">V</tspan><tspan class="it" font-size="7.1px" dy="1.5">cb</tspan><tspan dy="-1.5">|</tspan><tspan font-size="7.1px" dy="2">Frequ.</tspan></text>
<text class="ti" x="461.73" y="1018.6" textLength="51.95" lengthAdjust="spacingAndGlyphs">= 0.0387(14)</text>
<text class="ti" x="520.78" y="1018.6" textLength="65.9" lengthAdjust="spacingAndGlyphs">(<tspan class="it">p</tspan>,<tspan class="it" dx="1.8">χ</tspan><tspan font-size="7.1px" dy="-3.5">2</tspan><tspan dy="3.5">/</tspan><tspan class="it">N</tspan><tspan font-size="7.1px" dy="1.5">dof</tspan><tspan dy="-1.5">,</tspan><tspan class="it" dx="1.8">N</tspan><tspan font-size="7.1px" dy="1.5">dof</tspan></text>
<text class="ti" x="591.38" y="1018.6" textLength="64.8" lengthAdjust="spacingAndGlyphs">= (0.17,<tspan dx="1.8">1.45,</tspan><tspan dx="1.8">8)</tspan></text>
</g>
</svg>
</body></html>
